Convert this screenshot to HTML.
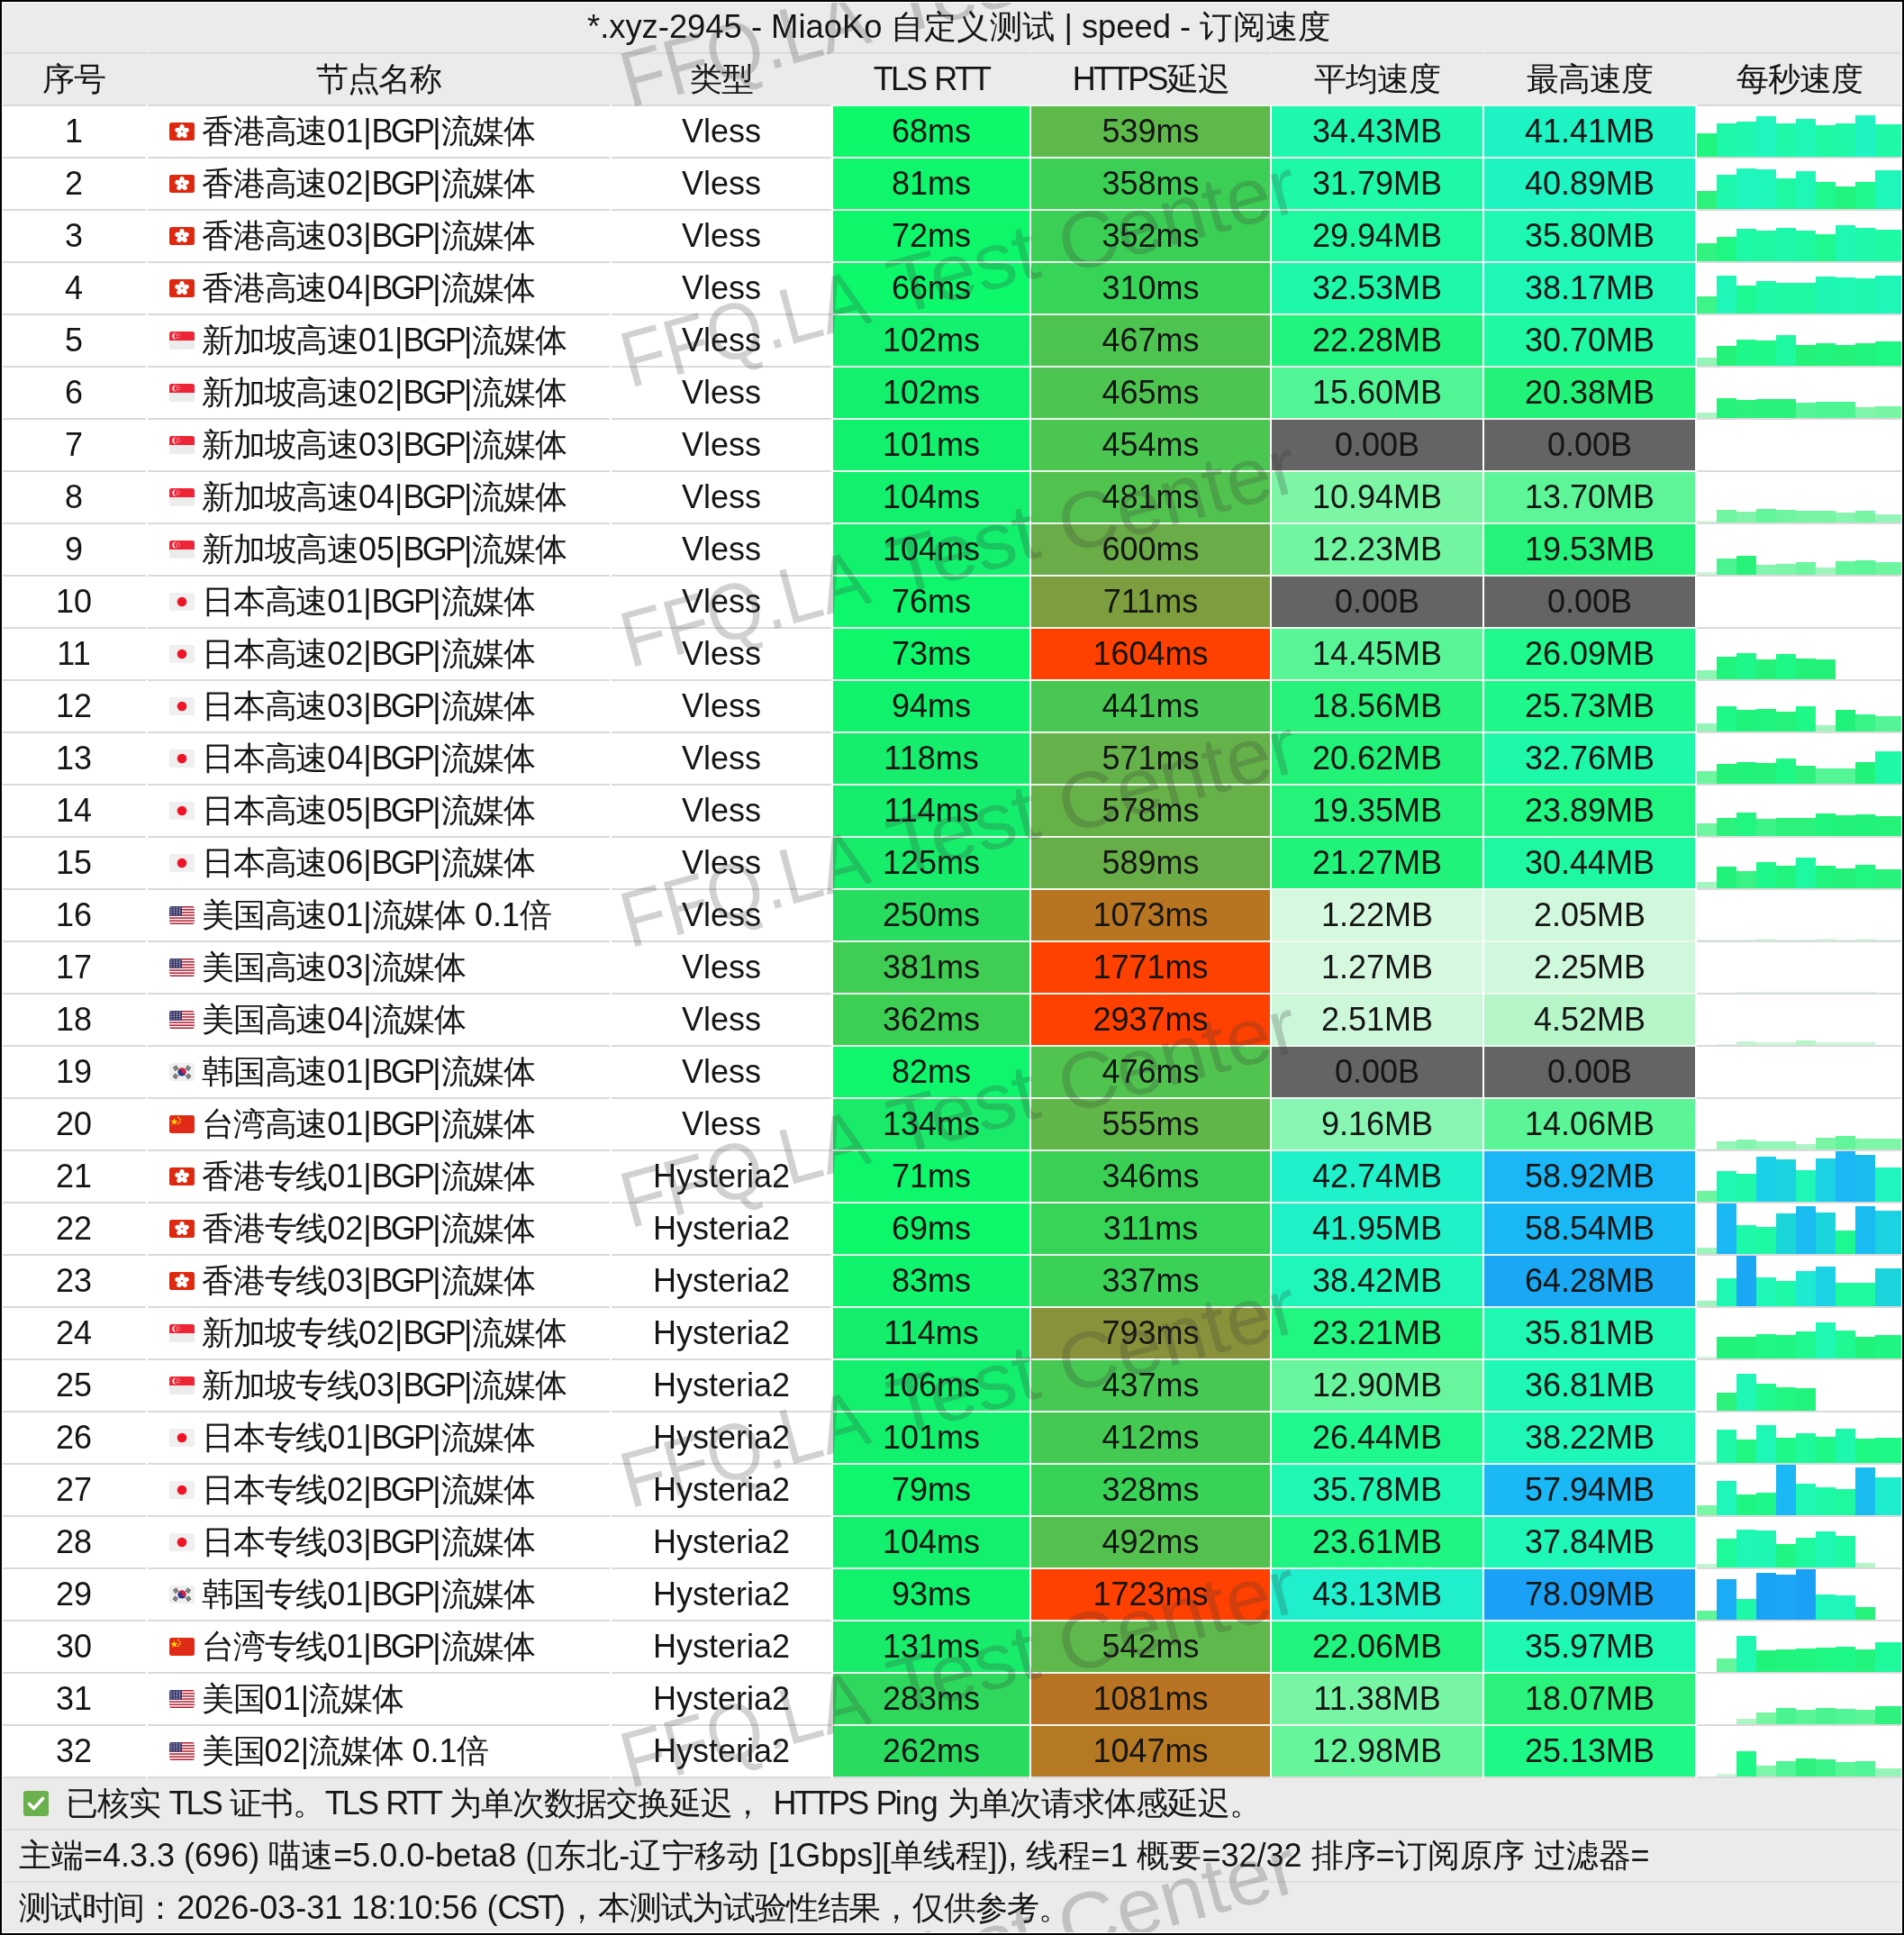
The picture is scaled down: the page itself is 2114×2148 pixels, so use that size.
<!DOCTYPE html><html><head><meta charset="utf-8"><style>
html,body{margin:0;padding:0;}
body{width:2114px;height:2148px;position:relative;overflow:hidden;background:#000;font-family:"Liberation Sans",sans-serif;color:#151515;-webkit-font-smoothing:antialiased;}
.a{position:absolute;}
.t{position:absolute;white-space:nowrap;will-change:transform;font-size:36px;line-height:56px;height:56px;text-align:center;}
.g{position:absolute;height:2px;background:#dadada;}
.w{position:absolute;height:2px;background:#eef7f0;}

</style></head><body>
<div class="a" style="left:2px;top:2px;width:2110px;height:2144px;background:#fff"></div>
<div class="a" style="left:2px;top:2px;width:2110px;height:114px;background:#ebebeb"></div>
<div class="a" style="left:2px;top:1974px;width:2110px;height:172px;background:#ebebeb"></div>
<div class="t" style="left:652px;top:2px;text-align:left;transform:scaleX(1.01);transform-origin:0 0">*.xyz-2945 - MiaoKo 自定义测试 | speed - 订阅速度</div>
<div class="g" style="left:2px;top:58px;width:160px;background:#dcdcdc"></div>
<div class="t" style="left:2px;top:60px;width:160px;"><span style="letter-spacing:-1.2px">序号</span></div>
<div class="g" style="left:164px;top:58px;width:513px;background:#dcdcdc"></div>
<div class="t" style="left:164px;top:60px;width:513px;"><span style="letter-spacing:-1.2px">节点名称</span></div>
<div class="g" style="left:679px;top:58px;width:244px;background:#dcdcdc"></div>
<div class="t" style="left:679px;top:60px;width:244px;"><span style="letter-spacing:-1.2px">类型</span></div>
<div class="g" style="left:925px;top:58px;width:218px;background:#dcdcdc"></div>
<div class="t" style="left:925px;top:60px;width:218px;"><b style="font-weight:normal;letter-spacing:-2.8px">TLS</b> <b style="font-weight:normal;letter-spacing:-2.8px">RTT</b></div>
<div class="g" style="left:1145px;top:58px;width:265px;background:#dcdcdc"></div>
<div class="t" style="left:1145px;top:60px;width:265px;"><b style="font-weight:normal;letter-spacing:-2.8px">HTTPS</b><span style="letter-spacing:-1.2px">延迟</span></div>
<div class="g" style="left:1412px;top:58px;width:234px;background:#dcdcdc"></div>
<div class="t" style="left:1412px;top:60px;width:234px;"><span style="letter-spacing:-1.2px">平均速度</span></div>
<div class="g" style="left:1648px;top:58px;width:234px;background:#dcdcdc"></div>
<div class="t" style="left:1648px;top:60px;width:234px;"><span style="letter-spacing:-1.2px">最高速度</span></div>
<div class="g" style="left:1884px;top:58px;width:228px;background:#dcdcdc"></div>
<div class="t" style="left:1884px;top:60px;width:228px;"><span style="letter-spacing:-1.2px">每秒速度</span></div>
<div class="g" style="left:2px;top:116px;width:160px"></div>
<div class="g" style="left:164px;top:116px;width:513px"></div>
<div class="g" style="left:679px;top:116px;width:244px"></div>
<div class="w" style="left:925px;top:116px;width:218px"></div>
<div class="a" style="left:925px;top:118px;width:218px;height:56px;background:#0df86b"></div>
<div class="w" style="left:1145px;top:116px;width:265px"></div>
<div class="a" style="left:1145px;top:118px;width:265px;height:56px;background:#5eb94b"></div>
<div class="w" style="left:1412px;top:116px;width:234px"></div>
<div class="a" style="left:1412px;top:118px;width:234px;height:56px;background:#1ef8ae"></div>
<div class="w" style="left:1648px;top:116px;width:234px"></div>
<div class="a" style="left:1648px;top:118px;width:234px;height:56px;background:#1ef3c4"></div>
<div class="g" style="left:1884px;top:116px;width:228px"></div>
<div class="t" style="left:2px;top:118px;width:160px">1</div>
<svg class="a" style="left:188px;top:136px" width="28" height="20" viewBox="0 0 28 20"><rect width="28" height="20" rx="2.5" fill="#de2910"/><ellipse cx="14.00" cy="5.60" rx="2.7" ry="3.7" fill="#fff" transform="rotate(0 14.00 5.60)"/><ellipse cx="18.18" cy="8.64" rx="2.7" ry="3.7" fill="#fff" transform="rotate(72 18.18 8.64)"/><ellipse cx="16.59" cy="13.56" rx="2.7" ry="3.7" fill="#fff" transform="rotate(144 16.59 13.56)"/><ellipse cx="11.41" cy="13.56" rx="2.7" ry="3.7" fill="#fff" transform="rotate(216 11.41 13.56)"/><ellipse cx="9.82" cy="8.64" rx="2.7" ry="3.7" fill="#fff" transform="rotate(288 9.82 8.64)"/><circle cx="14" cy="10" r="1" fill="#de2910"/></svg>
<div class="t" style="left:224px;top:118px;text-align:left"><span style="letter-spacing:-1.2px">香港高速</span>01|<b style="font-weight:normal;letter-spacing:-2.8px">BGP</b>|<span style="letter-spacing:-1.2px">流媒体</span></div>
<div class="t" style="left:679px;top:118px;width:244px">Vless</div>
<div class="t" style="left:925px;top:118px;width:218px">68ms</div>
<div class="t" style="left:1145px;top:118px;width:265px">539ms</div>
<div class="t" style="left:1412px;top:118px;width:234px">34.43MB</div>
<div class="t" style="left:1648px;top:118px;width:234px">41.41MB</div>
<div class="a" style="left:1884px;top:148.2px;width:22px;height:25.8px;background:#20f57f"></div>
<div class="a" style="left:1906px;top:137.1px;width:22px;height:36.9px;background:#1ef8a9"></div>
<div class="a" style="left:1928px;top:135.2px;width:22px;height:38.8px;background:#1ef8af"></div>
<div class="a" style="left:1950px;top:129.0px;width:22px;height:45.0px;background:#1ef6be"></div>
<div class="a" style="left:1972px;top:137.1px;width:22px;height:36.9px;background:#1ef8a9"></div>
<div class="a" style="left:1994px;top:132.1px;width:22px;height:41.9px;background:#1ef7b6"></div>
<div class="a" style="left:2016px;top:138.9px;width:22px;height:35.1px;background:#1ef9a4"></div>
<div class="a" style="left:2038px;top:137.1px;width:22px;height:36.9px;background:#1ef8a9"></div>
<div class="a" style="left:2060px;top:128.0px;width:22px;height:46.0px;background:#1ef4c2"></div>
<div class="a" style="left:2082px;top:138.1px;width:30px;height:35.9px;background:#1ef9a7"></div>
<div class="g" style="left:2px;top:174px;width:160px"></div>
<div class="g" style="left:164px;top:174px;width:513px"></div>
<div class="g" style="left:679px;top:174px;width:244px"></div>
<div class="w" style="left:925px;top:174px;width:218px"></div>
<div class="a" style="left:925px;top:176px;width:218px;height:56px;background:#0ff56c"></div>
<div class="w" style="left:1145px;top:174px;width:265px"></div>
<div class="a" style="left:1145px;top:176px;width:265px;height:56px;background:#3dcf55"></div>
<div class="w" style="left:1412px;top:174px;width:234px"></div>
<div class="a" style="left:1412px;top:176px;width:234px;height:56px;background:#1ef9a6"></div>
<div class="w" style="left:1648px;top:174px;width:234px"></div>
<div class="a" style="left:1648px;top:176px;width:234px;height:56px;background:#1ef4c1"></div>
<div class="g" style="left:1884px;top:174px;width:228px"></div>
<div class="t" style="left:2px;top:176px;width:160px">2</div>
<svg class="a" style="left:188px;top:194px" width="28" height="20" viewBox="0 0 28 20"><rect width="28" height="20" rx="2.5" fill="#de2910"/><ellipse cx="14.00" cy="5.60" rx="2.7" ry="3.7" fill="#fff" transform="rotate(0 14.00 5.60)"/><ellipse cx="18.18" cy="8.64" rx="2.7" ry="3.7" fill="#fff" transform="rotate(72 18.18 8.64)"/><ellipse cx="16.59" cy="13.56" rx="2.7" ry="3.7" fill="#fff" transform="rotate(144 16.59 13.56)"/><ellipse cx="11.41" cy="13.56" rx="2.7" ry="3.7" fill="#fff" transform="rotate(216 11.41 13.56)"/><ellipse cx="9.82" cy="8.64" rx="2.7" ry="3.7" fill="#fff" transform="rotate(288 9.82 8.64)"/><circle cx="14" cy="10" r="1" fill="#de2910"/></svg>
<div class="t" style="left:224px;top:176px;text-align:left"><span style="letter-spacing:-1.2px">香港高速</span>02|<b style="font-weight:normal;letter-spacing:-2.8px">BGP</b>|<span style="letter-spacing:-1.2px">流媒体</span></div>
<div class="t" style="left:679px;top:176px;width:244px">Vless</div>
<div class="t" style="left:925px;top:176px;width:218px">81ms</div>
<div class="t" style="left:1145px;top:176px;width:265px">358ms</div>
<div class="t" style="left:1412px;top:176px;width:234px">31.79MB</div>
<div class="t" style="left:1648px;top:176px;width:234px">40.89MB</div>
<div class="a" style="left:1884px;top:212.0px;width:22px;height:20.0px;background:#2cf27c"></div>
<div class="a" style="left:1906px;top:194.1px;width:22px;height:37.9px;background:#1ef8ac"></div>
<div class="a" style="left:1928px;top:187.3px;width:22px;height:44.7px;background:#1ef6bd"></div>
<div class="a" style="left:1950px;top:188.1px;width:22px;height:43.9px;background:#1ef6bb"></div>
<div class="a" style="left:1972px;top:198.0px;width:22px;height:34.0px;background:#1ef9a1"></div>
<div class="a" style="left:1994px;top:190.1px;width:22px;height:41.9px;background:#1ef7b6"></div>
<div class="a" style="left:2016px;top:202.1px;width:22px;height:29.9px;background:#1ef88f"></div>
<div class="a" style="left:2038px;top:207.1px;width:22px;height:24.9px;background:#20f47d"></div>
<div class="a" style="left:2060px;top:202.1px;width:22px;height:29.9px;background:#1ef88f"></div>
<div class="a" style="left:2082px;top:189.1px;width:30px;height:42.9px;background:#1ef7b9"></div>
<div class="g" style="left:2px;top:232px;width:160px"></div>
<div class="g" style="left:164px;top:232px;width:513px"></div>
<div class="g" style="left:679px;top:232px;width:244px"></div>
<div class="w" style="left:925px;top:232px;width:218px"></div>
<div class="a" style="left:925px;top:234px;width:218px;height:56px;background:#0ef76b"></div>
<div class="w" style="left:1145px;top:232px;width:265px"></div>
<div class="a" style="left:1145px;top:234px;width:265px;height:56px;background:#3ccf55"></div>
<div class="w" style="left:1412px;top:232px;width:234px"></div>
<div class="a" style="left:1412px;top:234px;width:234px;height:56px;background:#1ef9a0"></div>
<div class="w" style="left:1648px;top:232px;width:234px"></div>
<div class="a" style="left:1648px;top:234px;width:234px;height:56px;background:#1ef8b2"></div>
<div class="g" style="left:1884px;top:232px;width:228px"></div>
<div class="t" style="left:2px;top:234px;width:160px">3</div>
<svg class="a" style="left:188px;top:252px" width="28" height="20" viewBox="0 0 28 20"><rect width="28" height="20" rx="2.5" fill="#de2910"/><ellipse cx="14.00" cy="5.60" rx="2.7" ry="3.7" fill="#fff" transform="rotate(0 14.00 5.60)"/><ellipse cx="18.18" cy="8.64" rx="2.7" ry="3.7" fill="#fff" transform="rotate(72 18.18 8.64)"/><ellipse cx="16.59" cy="13.56" rx="2.7" ry="3.7" fill="#fff" transform="rotate(144 16.59 13.56)"/><ellipse cx="11.41" cy="13.56" rx="2.7" ry="3.7" fill="#fff" transform="rotate(216 11.41 13.56)"/><ellipse cx="9.82" cy="8.64" rx="2.7" ry="3.7" fill="#fff" transform="rotate(288 9.82 8.64)"/><circle cx="14" cy="10" r="1" fill="#de2910"/></svg>
<div class="t" style="left:224px;top:234px;text-align:left"><span style="letter-spacing:-1.2px">香港高速</span>03|<b style="font-weight:normal;letter-spacing:-2.8px">BGP</b>|<span style="letter-spacing:-1.2px">流媒体</span></div>
<div class="t" style="left:679px;top:234px;width:244px">Vless</div>
<div class="t" style="left:925px;top:234px;width:218px">72ms</div>
<div class="t" style="left:1145px;top:234px;width:265px">352ms</div>
<div class="t" style="left:1412px;top:234px;width:234px">29.94MB</div>
<div class="t" style="left:1648px;top:234px;width:234px">35.80MB</div>
<div class="a" style="left:1884px;top:270.3px;width:22px;height:19.7px;background:#31f37f"></div>
<div class="a" style="left:1906px;top:263.1px;width:22px;height:26.9px;background:#1ff783"></div>
<div class="a" style="left:1928px;top:254.2px;width:22px;height:35.8px;background:#1ef9a6"></div>
<div class="a" style="left:1950px;top:256.1px;width:22px;height:33.9px;background:#1ef9a1"></div>
<div class="a" style="left:1972px;top:252.9px;width:22px;height:37.1px;background:#1ef8aa"></div>
<div class="a" style="left:1994px;top:256.1px;width:22px;height:33.9px;background:#1ef9a1"></div>
<div class="a" style="left:2016px;top:260.1px;width:22px;height:29.9px;background:#1ef88f"></div>
<div class="a" style="left:2038px;top:250.1px;width:22px;height:39.9px;background:#1ef8b2"></div>
<div class="a" style="left:2060px;top:252.9px;width:22px;height:37.1px;background:#1ef8aa"></div>
<div class="a" style="left:2082px;top:255.0px;width:30px;height:35.0px;background:#1ef9a4"></div>
<div class="g" style="left:2px;top:290px;width:160px"></div>
<div class="g" style="left:164px;top:290px;width:513px"></div>
<div class="g" style="left:679px;top:290px;width:244px"></div>
<div class="w" style="left:925px;top:290px;width:218px"></div>
<div class="a" style="left:925px;top:292px;width:218px;height:56px;background:#0df86b"></div>
<div class="w" style="left:1145px;top:290px;width:265px"></div>
<div class="a" style="left:1145px;top:292px;width:265px;height:56px;background:#36d457"></div>
<div class="w" style="left:1412px;top:290px;width:234px"></div>
<div class="a" style="left:1412px;top:292px;width:234px;height:56px;background:#1ef8a8"></div>
<div class="w" style="left:1648px;top:290px;width:234px"></div>
<div class="a" style="left:1648px;top:292px;width:234px;height:56px;background:#1ef7b8"></div>
<div class="g" style="left:1884px;top:290px;width:228px"></div>
<div class="t" style="left:2px;top:292px;width:160px">4</div>
<svg class="a" style="left:188px;top:310px" width="28" height="20" viewBox="0 0 28 20"><rect width="28" height="20" rx="2.5" fill="#de2910"/><ellipse cx="14.00" cy="5.60" rx="2.7" ry="3.7" fill="#fff" transform="rotate(0 14.00 5.60)"/><ellipse cx="18.18" cy="8.64" rx="2.7" ry="3.7" fill="#fff" transform="rotate(72 18.18 8.64)"/><ellipse cx="16.59" cy="13.56" rx="2.7" ry="3.7" fill="#fff" transform="rotate(144 16.59 13.56)"/><ellipse cx="11.41" cy="13.56" rx="2.7" ry="3.7" fill="#fff" transform="rotate(216 11.41 13.56)"/><ellipse cx="9.82" cy="8.64" rx="2.7" ry="3.7" fill="#fff" transform="rotate(288 9.82 8.64)"/><circle cx="14" cy="10" r="1" fill="#de2910"/></svg>
<div class="t" style="left:224px;top:292px;text-align:left"><span style="letter-spacing:-1.2px">香港高速</span>04|<b style="font-weight:normal;letter-spacing:-2.8px">BGP</b>|<span style="letter-spacing:-1.2px">流媒体</span></div>
<div class="t" style="left:679px;top:292px;width:244px">Vless</div>
<div class="t" style="left:925px;top:292px;width:218px">66ms</div>
<div class="t" style="left:1145px;top:292px;width:265px">310ms</div>
<div class="t" style="left:1412px;top:292px;width:234px">32.53MB</div>
<div class="t" style="left:1648px;top:292px;width:234px">38.17MB</div>
<div class="a" style="left:1884px;top:329.2px;width:22px;height:18.8px;background:#3df488"></div>
<div class="a" style="left:1906px;top:305.9px;width:22px;height:42.1px;background:#1ef7b7"></div>
<div class="a" style="left:1928px;top:317.0px;width:22px;height:31.0px;background:#1ef994"></div>
<div class="a" style="left:1950px;top:312.1px;width:22px;height:35.9px;background:#1ef9a7"></div>
<div class="a" style="left:1972px;top:313.5px;width:22px;height:34.5px;background:#1ef9a3"></div>
<div class="a" style="left:1994px;top:314.0px;width:22px;height:34.0px;background:#1ef9a1"></div>
<div class="a" style="left:2016px;top:307.1px;width:22px;height:40.9px;background:#1ef7b4"></div>
<div class="a" style="left:2038px;top:308.1px;width:22px;height:39.9px;background:#1ef8b2"></div>
<div class="a" style="left:2060px;top:309.1px;width:22px;height:38.9px;background:#1ef8af"></div>
<div class="a" style="left:2082px;top:305.9px;width:30px;height:42.1px;background:#1ef7b7"></div>
<div class="g" style="left:2px;top:348px;width:160px"></div>
<div class="g" style="left:164px;top:348px;width:513px"></div>
<div class="g" style="left:679px;top:348px;width:244px"></div>
<div class="w" style="left:925px;top:348px;width:218px"></div>
<div class="a" style="left:925px;top:350px;width:218px;height:56px;background:#12f06d"></div>
<div class="w" style="left:1145px;top:348px;width:265px"></div>
<div class="a" style="left:1145px;top:350px;width:265px;height:56px;background:#4ec450"></div>
<div class="w" style="left:1412px;top:348px;width:234px"></div>
<div class="a" style="left:1412px;top:350px;width:234px;height:56px;background:#20f47d"></div>
<div class="w" style="left:1648px;top:348px;width:234px"></div>
<div class="a" style="left:1648px;top:350px;width:234px;height:56px;background:#1ef9a2"></div>
<div class="g" style="left:1884px;top:348px;width:228px"></div>
<div class="t" style="left:2px;top:350px;width:160px">5</div>
<svg class="a" style="left:188px;top:368px" width="28" height="20" viewBox="0 0 28 20"><clipPath id="c368"><rect width="28" height="20" rx="2.5"/></clipPath><g clip-path="url(#c368)"><rect width="28" height="20" fill="#ececec"/><rect width="28" height="10" fill="#ee2536"/><circle cx="7" cy="5" r="3.6" fill="#fff"/><circle cx="8.6" cy="5" r="3.4" fill="#ee2536"/><circle cx="9.8" cy="2.6" r="0.6" fill="#fff"/><circle cx="11.4" cy="4.2" r="0.6" fill="#fff"/><circle cx="10.8" cy="6.6" r="0.6" fill="#fff"/><circle cx="8.6" cy="6.6" r="0.6" fill="#fff"/><circle cx="8.2" cy="4.2" r="0.6" fill="#fff"/></g></svg>
<div class="t" style="left:224px;top:350px;text-align:left"><span style="letter-spacing:-1.2px">新加坡高速</span>01|<b style="font-weight:normal;letter-spacing:-2.8px">BGP</b>|<span style="letter-spacing:-1.2px">流媒体</span></div>
<div class="t" style="left:679px;top:350px;width:244px">Vless</div>
<div class="t" style="left:925px;top:350px;width:218px">102ms</div>
<div class="t" style="left:1145px;top:350px;width:265px">467ms</div>
<div class="t" style="left:1412px;top:350px;width:234px">22.28MB</div>
<div class="t" style="left:1648px;top:350px;width:234px">30.70MB</div>
<div class="a" style="left:1884px;top:397.2px;width:22px;height:8.8px;background:#95f5b8"></div>
<div class="a" style="left:1906px;top:383.9px;width:22px;height:22.1px;background:#24f278"></div>
<div class="a" style="left:1928px;top:377.1px;width:22px;height:28.9px;background:#1ef88a"></div>
<div class="a" style="left:1950px;top:378.1px;width:22px;height:27.9px;background:#1ef886"></div>
<div class="a" style="left:1972px;top:372.2px;width:22px;height:33.8px;background:#1ef9a1"></div>
<div class="a" style="left:1994px;top:383.2px;width:22px;height:22.8px;background:#22f277"></div>
<div class="a" style="left:2016px;top:381.1px;width:22px;height:24.9px;background:#20f47d"></div>
<div class="a" style="left:2038px;top:383.2px;width:22px;height:22.8px;background:#22f277"></div>
<div class="a" style="left:2060px;top:381.1px;width:22px;height:24.9px;background:#20f47d"></div>
<div class="a" style="left:2082px;top:379.1px;width:30px;height:26.9px;background:#1ff783"></div>
<div class="g" style="left:2px;top:406px;width:160px"></div>
<div class="g" style="left:164px;top:406px;width:513px"></div>
<div class="g" style="left:679px;top:406px;width:244px"></div>
<div class="w" style="left:925px;top:406px;width:218px"></div>
<div class="a" style="left:925px;top:408px;width:218px;height:56px;background:#12f06d"></div>
<div class="w" style="left:1145px;top:406px;width:265px"></div>
<div class="a" style="left:1145px;top:408px;width:265px;height:56px;background:#4ec450"></div>
<div class="w" style="left:1412px;top:406px;width:234px"></div>
<div class="a" style="left:1412px;top:408px;width:234px;height:56px;background:#50f595"></div>
<div class="w" style="left:1648px;top:406px;width:234px"></div>
<div class="a" style="left:1648px;top:408px;width:234px;height:56px;background:#22f277"></div>
<div class="g" style="left:1884px;top:406px;width:228px"></div>
<div class="t" style="left:2px;top:408px;width:160px">6</div>
<svg class="a" style="left:188px;top:426px" width="28" height="20" viewBox="0 0 28 20"><clipPath id="c426"><rect width="28" height="20" rx="2.5"/></clipPath><g clip-path="url(#c426)"><rect width="28" height="20" fill="#ececec"/><rect width="28" height="10" fill="#ee2536"/><circle cx="7" cy="5" r="3.6" fill="#fff"/><circle cx="8.6" cy="5" r="3.4" fill="#ee2536"/><circle cx="9.8" cy="2.6" r="0.6" fill="#fff"/><circle cx="11.4" cy="4.2" r="0.6" fill="#fff"/><circle cx="10.8" cy="6.6" r="0.6" fill="#fff"/><circle cx="8.6" cy="6.6" r="0.6" fill="#fff"/><circle cx="8.2" cy="4.2" r="0.6" fill="#fff"/></g></svg>
<div class="t" style="left:224px;top:408px;text-align:left"><span style="letter-spacing:-1.2px">新加坡高速</span>02|<b style="font-weight:normal;letter-spacing:-2.8px">BGP</b>|<span style="letter-spacing:-1.2px">流媒体</span></div>
<div class="t" style="left:679px;top:408px;width:244px">Vless</div>
<div class="t" style="left:925px;top:408px;width:218px">102ms</div>
<div class="t" style="left:1145px;top:408px;width:265px">465ms</div>
<div class="t" style="left:1412px;top:408px;width:234px">15.60MB</div>
<div class="t" style="left:1648px;top:408px;width:234px">20.38MB</div>
<div class="a" style="left:1884px;top:458.0px;width:22px;height:6.0px;background:#adf5c4"></div>
<div class="a" style="left:1906px;top:442.2px;width:22px;height:21.8px;background:#25f278"></div>
<div class="a" style="left:1928px;top:444.0px;width:22px;height:20.0px;background:#2cf27c"></div>
<div class="a" style="left:1950px;top:443.2px;width:22px;height:20.8px;background:#28f279"></div>
<div class="a" style="left:1972px;top:443.2px;width:22px;height:20.8px;background:#28f279"></div>
<div class="a" style="left:1994px;top:447.1px;width:22px;height:16.9px;background:#54f596"></div>
<div class="a" style="left:2016px;top:446.2px;width:22px;height:17.8px;background:#4bf592"></div>
<div class="a" style="left:2038px;top:446.2px;width:22px;height:17.8px;background:#4bf592"></div>
<div class="a" style="left:2060px;top:452.1px;width:22px;height:11.9px;background:#7ef5a8"></div>
<div class="a" style="left:2082px;top:451.1px;width:30px;height:12.9px;background:#77f5a3"></div>
<div class="g" style="left:2px;top:464px;width:160px"></div>
<div class="g" style="left:164px;top:464px;width:513px"></div>
<div class="g" style="left:679px;top:464px;width:244px"></div>
<div class="w" style="left:925px;top:464px;width:218px"></div>
<div class="a" style="left:925px;top:466px;width:218px;height:56px;background:#12f16d"></div>
<div class="w" style="left:1145px;top:464px;width:265px"></div>
<div class="a" style="left:1145px;top:466px;width:265px;height:56px;background:#4bc651"></div>
<div class="w" style="left:1412px;top:464px;width:234px"></div>
<div class="a" style="left:1412px;top:466px;width:234px;height:56px;background:#646464"></div>
<div class="w" style="left:1648px;top:464px;width:234px"></div>
<div class="a" style="left:1648px;top:466px;width:234px;height:56px;background:#646464"></div>
<div class="g" style="left:1884px;top:464px;width:228px"></div>
<div class="t" style="left:2px;top:466px;width:160px">7</div>
<svg class="a" style="left:188px;top:484px" width="28" height="20" viewBox="0 0 28 20"><clipPath id="c484"><rect width="28" height="20" rx="2.5"/></clipPath><g clip-path="url(#c484)"><rect width="28" height="20" fill="#ececec"/><rect width="28" height="10" fill="#ee2536"/><circle cx="7" cy="5" r="3.6" fill="#fff"/><circle cx="8.6" cy="5" r="3.4" fill="#ee2536"/><circle cx="9.8" cy="2.6" r="0.6" fill="#fff"/><circle cx="11.4" cy="4.2" r="0.6" fill="#fff"/><circle cx="10.8" cy="6.6" r="0.6" fill="#fff"/><circle cx="8.6" cy="6.6" r="0.6" fill="#fff"/><circle cx="8.2" cy="4.2" r="0.6" fill="#fff"/></g></svg>
<div class="t" style="left:224px;top:466px;text-align:left"><span style="letter-spacing:-1.2px">新加坡高速</span>03|<b style="font-weight:normal;letter-spacing:-2.8px">BGP</b>|<span style="letter-spacing:-1.2px">流媒体</span></div>
<div class="t" style="left:679px;top:466px;width:244px">Vless</div>
<div class="t" style="left:925px;top:466px;width:218px">101ms</div>
<div class="t" style="left:1145px;top:466px;width:265px">454ms</div>
<div class="t" style="left:1412px;top:466px;width:234px">0.00B</div>
<div class="t" style="left:1648px;top:466px;width:234px">0.00B</div>
<div class="g" style="left:2px;top:522px;width:160px"></div>
<div class="g" style="left:164px;top:522px;width:513px"></div>
<div class="g" style="left:679px;top:522px;width:244px"></div>
<div class="w" style="left:925px;top:522px;width:218px"></div>
<div class="a" style="left:925px;top:524px;width:218px;height:56px;background:#12f06d"></div>
<div class="w" style="left:1145px;top:522px;width:265px"></div>
<div class="a" style="left:1145px;top:524px;width:265px;height:56px;background:#52c24f"></div>
<div class="w" style="left:1412px;top:522px;width:234px"></div>
<div class="a" style="left:1412px;top:524px;width:234px;height:56px;background:#7cf5a5"></div>
<div class="w" style="left:1648px;top:522px;width:234px"></div>
<div class="a" style="left:1648px;top:524px;width:234px;height:56px;background:#5ef598"></div>
<div class="g" style="left:1884px;top:522px;width:228px"></div>
<div class="t" style="left:2px;top:524px;width:160px">8</div>
<svg class="a" style="left:188px;top:542px" width="28" height="20" viewBox="0 0 28 20"><clipPath id="c542"><rect width="28" height="20" rx="2.5"/></clipPath><g clip-path="url(#c542)"><rect width="28" height="20" fill="#ececec"/><rect width="28" height="10" fill="#ee2536"/><circle cx="7" cy="5" r="3.6" fill="#fff"/><circle cx="8.6" cy="5" r="3.4" fill="#ee2536"/><circle cx="9.8" cy="2.6" r="0.6" fill="#fff"/><circle cx="11.4" cy="4.2" r="0.6" fill="#fff"/><circle cx="10.8" cy="6.6" r="0.6" fill="#fff"/><circle cx="8.6" cy="6.6" r="0.6" fill="#fff"/><circle cx="8.2" cy="4.2" r="0.6" fill="#fff"/></g></svg>
<div class="t" style="left:224px;top:524px;text-align:left"><span style="letter-spacing:-1.2px">新加坡高速</span>04|<b style="font-weight:normal;letter-spacing:-2.8px">BGP</b>|<span style="letter-spacing:-1.2px">流媒体</span></div>
<div class="t" style="left:679px;top:524px;width:244px">Vless</div>
<div class="t" style="left:925px;top:524px;width:218px">104ms</div>
<div class="t" style="left:1145px;top:524px;width:265px">481ms</div>
<div class="t" style="left:1412px;top:524px;width:234px">10.94MB</div>
<div class="t" style="left:1648px;top:524px;width:234px">13.70MB</div>
<div class="a" style="left:1884px;top:578.3px;width:22px;height:1.7px;background:#d4f8de"></div>
<div class="a" style="left:1906px;top:566.1px;width:22px;height:13.9px;background:#6ff59f"></div>
<div class="a" style="left:1928px;top:568.3px;width:22px;height:11.7px;background:#80f5a9"></div>
<div class="a" style="left:1950px;top:565.1px;width:22px;height:14.9px;background:#63f59a"></div>
<div class="a" style="left:1972px;top:566.1px;width:22px;height:13.9px;background:#6ff59f"></div>
<div class="a" style="left:1994px;top:567.1px;width:22px;height:12.9px;background:#77f5a3"></div>
<div class="a" style="left:2016px;top:567.1px;width:22px;height:12.9px;background:#77f5a3"></div>
<div class="a" style="left:2038px;top:569.2px;width:22px;height:10.8px;background:#85f5af"></div>
<div class="a" style="left:2060px;top:567.1px;width:22px;height:12.9px;background:#77f5a3"></div>
<div class="a" style="left:2082px;top:571.1px;width:30px;height:8.9px;background:#94f5b8"></div>
<div class="g" style="left:2px;top:580px;width:160px"></div>
<div class="g" style="left:164px;top:580px;width:513px"></div>
<div class="g" style="left:679px;top:580px;width:244px"></div>
<div class="w" style="left:925px;top:580px;width:218px"></div>
<div class="a" style="left:925px;top:582px;width:218px;height:56px;background:#12f06d"></div>
<div class="w" style="left:1145px;top:580px;width:265px"></div>
<div class="a" style="left:1145px;top:582px;width:265px;height:56px;background:#6aac47"></div>
<div class="w" style="left:1412px;top:580px;width:234px"></div>
<div class="a" style="left:1412px;top:582px;width:234px;height:56px;background:#71f5a0"></div>
<div class="w" style="left:1648px;top:580px;width:234px"></div>
<div class="a" style="left:1648px;top:582px;width:234px;height:56px;background:#25f278"></div>
<div class="g" style="left:1884px;top:580px;width:228px"></div>
<div class="t" style="left:2px;top:582px;width:160px">9</div>
<svg class="a" style="left:188px;top:600px" width="28" height="20" viewBox="0 0 28 20"><clipPath id="c600"><rect width="28" height="20" rx="2.5"/></clipPath><g clip-path="url(#c600)"><rect width="28" height="20" fill="#ececec"/><rect width="28" height="10" fill="#ee2536"/><circle cx="7" cy="5" r="3.6" fill="#fff"/><circle cx="8.6" cy="5" r="3.4" fill="#ee2536"/><circle cx="9.8" cy="2.6" r="0.6" fill="#fff"/><circle cx="11.4" cy="4.2" r="0.6" fill="#fff"/><circle cx="10.8" cy="6.6" r="0.6" fill="#fff"/><circle cx="8.6" cy="6.6" r="0.6" fill="#fff"/><circle cx="8.2" cy="4.2" r="0.6" fill="#fff"/></g></svg>
<div class="t" style="left:224px;top:582px;text-align:left"><span style="letter-spacing:-1.2px">新加坡高速</span>05|<b style="font-weight:normal;letter-spacing:-2.8px">BGP</b>|<span style="letter-spacing:-1.2px">流媒体</span></div>
<div class="t" style="left:679px;top:582px;width:244px">Vless</div>
<div class="t" style="left:925px;top:582px;width:218px">104ms</div>
<div class="t" style="left:1145px;top:582px;width:265px">600ms</div>
<div class="t" style="left:1412px;top:582px;width:234px">12.23MB</div>
<div class="t" style="left:1648px;top:582px;width:234px">19.53MB</div>
<div class="a" style="left:1884px;top:635.1px;width:22px;height:2.9px;background:#ccf7d8"></div>
<div class="a" style="left:1906px;top:620.0px;width:22px;height:18.0px;background:#49f490"></div>
<div class="a" style="left:1928px;top:616.9px;width:22px;height:21.1px;background:#27f279"></div>
<div class="a" style="left:1950px;top:627.1px;width:22px;height:10.9px;background:#84f5ae"></div>
<div class="a" style="left:1972px;top:626.1px;width:22px;height:11.9px;background:#7ef5a8"></div>
<div class="a" style="left:1994px;top:624.0px;width:22px;height:14.0px;background:#6df59f"></div>
<div class="a" style="left:2016px;top:630.2px;width:22px;height:7.8px;background:#9df5bc"></div>
<div class="a" style="left:2038px;top:623.1px;width:22px;height:14.9px;background:#63f59a"></div>
<div class="a" style="left:2060px;top:622.3px;width:22px;height:15.7px;background:#5cf597"></div>
<div class="a" style="left:2082px;top:624.0px;width:30px;height:14.0px;background:#6df59f"></div>
<div class="g" style="left:2px;top:638px;width:160px"></div>
<div class="g" style="left:164px;top:638px;width:513px"></div>
<div class="g" style="left:679px;top:638px;width:244px"></div>
<div class="w" style="left:925px;top:638px;width:218px"></div>
<div class="a" style="left:925px;top:640px;width:218px;height:56px;background:#0ef66c"></div>
<div class="w" style="left:1145px;top:638px;width:265px"></div>
<div class="a" style="left:1145px;top:640px;width:265px;height:56px;background:#7c9e3e"></div>
<div class="w" style="left:1412px;top:638px;width:234px"></div>
<div class="a" style="left:1412px;top:640px;width:234px;height:56px;background:#646464"></div>
<div class="w" style="left:1648px;top:638px;width:234px"></div>
<div class="a" style="left:1648px;top:640px;width:234px;height:56px;background:#646464"></div>
<div class="g" style="left:1884px;top:638px;width:228px"></div>
<div class="t" style="left:2px;top:640px;width:160px">10</div>
<svg class="a" style="left:188px;top:658px" width="28" height="20" viewBox="0 0 28 20"><rect width="28" height="20" rx="2.5" fill="#efefef"/><circle cx="14" cy="10" r="5.3" fill="#ee1428"/></svg>
<div class="t" style="left:224px;top:640px;text-align:left"><span style="letter-spacing:-1.2px">日本高速</span>01|<b style="font-weight:normal;letter-spacing:-2.8px">BGP</b>|<span style="letter-spacing:-1.2px">流媒体</span></div>
<div class="t" style="left:679px;top:640px;width:244px">Vless</div>
<div class="t" style="left:925px;top:640px;width:218px">76ms</div>
<div class="t" style="left:1145px;top:640px;width:265px">711ms</div>
<div class="t" style="left:1412px;top:640px;width:234px">0.00B</div>
<div class="t" style="left:1648px;top:640px;width:234px">0.00B</div>
<div class="g" style="left:2px;top:696px;width:160px"></div>
<div class="g" style="left:164px;top:696px;width:513px"></div>
<div class="g" style="left:679px;top:696px;width:244px"></div>
<div class="w" style="left:925px;top:696px;width:218px"></div>
<div class="a" style="left:925px;top:698px;width:218px;height:56px;background:#0ef76b"></div>
<div class="w" style="left:1145px;top:696px;width:265px"></div>
<div class="a" style="left:1145px;top:698px;width:265px;height:56px;background:#fe4000"></div>
<div class="w" style="left:1412px;top:696px;width:234px"></div>
<div class="a" style="left:1412px;top:698px;width:234px;height:56px;background:#58f597"></div>
<div class="w" style="left:1648px;top:696px;width:234px"></div>
<div class="a" style="left:1648px;top:698px;width:234px;height:56px;background:#1ef88c"></div>
<div class="g" style="left:1884px;top:696px;width:228px"></div>
<div class="t" style="left:2px;top:698px;width:160px">11</div>
<svg class="a" style="left:188px;top:716px" width="28" height="20" viewBox="0 0 28 20"><rect width="28" height="20" rx="2.5" fill="#efefef"/><circle cx="14" cy="10" r="5.3" fill="#ee1428"/></svg>
<div class="t" style="left:224px;top:698px;text-align:left"><span style="letter-spacing:-1.2px">日本高速</span>02|<b style="font-weight:normal;letter-spacing:-2.8px">BGP</b>|<span style="letter-spacing:-1.2px">流媒体</span></div>
<div class="t" style="left:679px;top:698px;width:244px">Vless</div>
<div class="t" style="left:925px;top:698px;width:218px">73ms</div>
<div class="t" style="left:1145px;top:698px;width:265px">1604ms</div>
<div class="t" style="left:1412px;top:698px;width:234px">14.45MB</div>
<div class="t" style="left:1648px;top:698px;width:234px">26.09MB</div>
<div class="a" style="left:1884px;top:744.2px;width:22px;height:9.8px;background:#8cf5b4"></div>
<div class="a" style="left:1906px;top:729.0px;width:22px;height:25.0px;background:#20f47d"></div>
<div class="a" style="left:1928px;top:725.0px;width:22px;height:29.0px;background:#1ef88b"></div>
<div class="a" style="left:1950px;top:731.8px;width:22px;height:22.2px;background:#24f278"></div>
<div class="a" style="left:1972px;top:726.0px;width:22px;height:28.0px;background:#1ef886"></div>
<div class="a" style="left:1994px;top:731.0px;width:22px;height:23.0px;background:#22f277"></div>
<div class="a" style="left:2016px;top:731.8px;width:22px;height:22.2px;background:#24f278"></div>
<div class="g" style="left:2px;top:754px;width:160px"></div>
<div class="g" style="left:164px;top:754px;width:513px"></div>
<div class="g" style="left:679px;top:754px;width:244px"></div>
<div class="w" style="left:925px;top:754px;width:218px"></div>
<div class="a" style="left:925px;top:756px;width:218px;height:56px;background:#11f26c"></div>
<div class="w" style="left:1145px;top:754px;width:265px"></div>
<div class="a" style="left:1145px;top:756px;width:265px;height:56px;background:#48c852"></div>
<div class="w" style="left:1412px;top:754px;width:234px"></div>
<div class="a" style="left:1412px;top:756px;width:234px;height:56px;background:#28f279"></div>
<div class="w" style="left:1648px;top:754px;width:234px"></div>
<div class="a" style="left:1648px;top:756px;width:234px;height:56px;background:#1ef88a"></div>
<div class="g" style="left:1884px;top:754px;width:228px"></div>
<div class="t" style="left:2px;top:756px;width:160px">12</div>
<svg class="a" style="left:188px;top:774px" width="28" height="20" viewBox="0 0 28 20"><rect width="28" height="20" rx="2.5" fill="#efefef"/><circle cx="14" cy="10" r="5.3" fill="#ee1428"/></svg>
<div class="t" style="left:224px;top:756px;text-align:left"><span style="letter-spacing:-1.2px">日本高速</span>03|<b style="font-weight:normal;letter-spacing:-2.8px">BGP</b>|<span style="letter-spacing:-1.2px">流媒体</span></div>
<div class="t" style="left:679px;top:756px;width:244px">Vless</div>
<div class="t" style="left:925px;top:756px;width:218px">94ms</div>
<div class="t" style="left:1145px;top:756px;width:265px">441ms</div>
<div class="t" style="left:1412px;top:756px;width:234px">18.56MB</div>
<div class="t" style="left:1648px;top:756px;width:234px">25.73MB</div>
<div class="a" style="left:1884px;top:803.1px;width:22px;height:8.9px;background:#94f5b8"></div>
<div class="a" style="left:1906px;top:783.9px;width:22px;height:28.1px;background:#1ef886"></div>
<div class="a" style="left:1928px;top:788.0px;width:22px;height:24.0px;background:#21f37a"></div>
<div class="a" style="left:1950px;top:787.0px;width:22px;height:25.0px;background:#20f47d"></div>
<div class="a" style="left:1972px;top:790.1px;width:22px;height:21.9px;background:#25f278"></div>
<div class="a" style="left:1994px;top:783.9px;width:22px;height:28.1px;background:#1ef886"></div>
<div class="a" style="left:2016px;top:804.9px;width:22px;height:7.1px;background:#a3f5bf"></div>
<div class="a" style="left:2038px;top:788.0px;width:22px;height:24.0px;background:#21f37a"></div>
<div class="a" style="left:2060px;top:793.0px;width:22px;height:19.0px;background:#3af386"></div>
<div class="a" style="left:2082px;top:795.0px;width:30px;height:17.0px;background:#53f596"></div>
<div class="g" style="left:2px;top:812px;width:160px"></div>
<div class="g" style="left:164px;top:812px;width:513px"></div>
<div class="g" style="left:679px;top:812px;width:244px"></div>
<div class="w" style="left:925px;top:812px;width:218px"></div>
<div class="a" style="left:925px;top:814px;width:218px;height:56px;background:#16ed6c"></div>
<div class="w" style="left:1145px;top:812px;width:265px"></div>
<div class="a" style="left:1145px;top:814px;width:265px;height:56px;background:#64b249"></div>
<div class="w" style="left:1412px;top:812px;width:234px"></div>
<div class="a" style="left:1412px;top:814px;width:234px;height:56px;background:#22f277"></div>
<div class="w" style="left:1648px;top:812px;width:234px"></div>
<div class="a" style="left:1648px;top:814px;width:234px;height:56px;background:#1ef8a9"></div>
<div class="g" style="left:1884px;top:812px;width:228px"></div>
<div class="t" style="left:2px;top:814px;width:160px">13</div>
<svg class="a" style="left:188px;top:832px" width="28" height="20" viewBox="0 0 28 20"><rect width="28" height="20" rx="2.5" fill="#efefef"/><circle cx="14" cy="10" r="5.3" fill="#ee1428"/></svg>
<div class="t" style="left:224px;top:814px;text-align:left"><span style="letter-spacing:-1.2px">日本高速</span>04|<b style="font-weight:normal;letter-spacing:-2.8px">BGP</b>|<span style="letter-spacing:-1.2px">流媒体</span></div>
<div class="t" style="left:679px;top:814px;width:244px">Vless</div>
<div class="t" style="left:925px;top:814px;width:218px">118ms</div>
<div class="t" style="left:1145px;top:814px;width:265px">571ms</div>
<div class="t" style="left:1412px;top:814px;width:234px">20.62MB</div>
<div class="t" style="left:1648px;top:814px;width:234px">32.76MB</div>
<div class="a" style="left:1884px;top:856.0px;width:22px;height:14.0px;background:#6df59f"></div>
<div class="a" style="left:1906px;top:847.9px;width:22px;height:22.1px;background:#24f278"></div>
<div class="a" style="left:1928px;top:846.1px;width:22px;height:23.9px;background:#21f37a"></div>
<div class="a" style="left:1950px;top:847.1px;width:22px;height:22.9px;background:#22f277"></div>
<div class="a" style="left:1972px;top:842.1px;width:22px;height:27.9px;background:#1ef886"></div>
<div class="a" style="left:1994px;top:850.0px;width:22px;height:20.0px;background:#2cf27c"></div>
<div class="a" style="left:2016px;top:853.1px;width:22px;height:16.9px;background:#54f596"></div>
<div class="a" style="left:2038px;top:853.1px;width:22px;height:16.9px;background:#54f596"></div>
<div class="a" style="left:2060px;top:846.1px;width:22px;height:23.9px;background:#21f37a"></div>
<div class="a" style="left:2082px;top:834.1px;width:30px;height:35.9px;background:#1ef9a7"></div>
<div class="g" style="left:2px;top:870px;width:160px"></div>
<div class="g" style="left:164px;top:870px;width:513px"></div>
<div class="g" style="left:679px;top:870px;width:244px"></div>
<div class="w" style="left:925px;top:870px;width:218px"></div>
<div class="a" style="left:925px;top:872px;width:218px;height:56px;background:#15ee6c"></div>
<div class="w" style="left:1145px;top:870px;width:265px"></div>
<div class="a" style="left:1145px;top:872px;width:265px;height:56px;background:#66b148"></div>
<div class="w" style="left:1412px;top:870px;width:234px"></div>
<div class="a" style="left:1412px;top:872px;width:234px;height:56px;background:#25f278"></div>
<div class="w" style="left:1648px;top:870px;width:234px"></div>
<div class="a" style="left:1648px;top:872px;width:234px;height:56px;background:#1ff782"></div>
<div class="g" style="left:1884px;top:870px;width:228px"></div>
<div class="t" style="left:2px;top:872px;width:160px">14</div>
<svg class="a" style="left:188px;top:890px" width="28" height="20" viewBox="0 0 28 20"><rect width="28" height="20" rx="2.5" fill="#efefef"/><circle cx="14" cy="10" r="5.3" fill="#ee1428"/></svg>
<div class="t" style="left:224px;top:872px;text-align:left"><span style="letter-spacing:-1.2px">日本高速</span>05|<b style="font-weight:normal;letter-spacing:-2.8px">BGP</b>|<span style="letter-spacing:-1.2px">流媒体</span></div>
<div class="t" style="left:679px;top:872px;width:244px">Vless</div>
<div class="t" style="left:925px;top:872px;width:218px">114ms</div>
<div class="t" style="left:1145px;top:872px;width:265px">578ms</div>
<div class="t" style="left:1412px;top:872px;width:234px">19.35MB</div>
<div class="t" style="left:1648px;top:872px;width:234px">23.89MB</div>
<div class="a" style="left:1884px;top:914.2px;width:22px;height:13.8px;background:#70f5a0"></div>
<div class="a" style="left:1906px;top:908.0px;width:22px;height:20.0px;background:#2cf27c"></div>
<div class="a" style="left:1928px;top:902.1px;width:22px;height:25.9px;background:#20f680"></div>
<div class="a" style="left:1950px;top:909.0px;width:22px;height:19.0px;background:#3af386"></div>
<div class="a" style="left:1972px;top:908.0px;width:22px;height:20.0px;background:#2cf27c"></div>
<div class="a" style="left:1994px;top:908.0px;width:22px;height:20.0px;background:#2cf27c"></div>
<div class="a" style="left:2016px;top:903.1px;width:22px;height:24.9px;background:#20f47d"></div>
<div class="a" style="left:2038px;top:905.0px;width:22px;height:23.0px;background:#22f277"></div>
<div class="a" style="left:2060px;top:904.1px;width:22px;height:23.9px;background:#21f37a"></div>
<div class="a" style="left:2082px;top:906.2px;width:30px;height:21.8px;background:#25f278"></div>
<div class="g" style="left:2px;top:928px;width:160px"></div>
<div class="g" style="left:164px;top:928px;width:513px"></div>
<div class="g" style="left:679px;top:928px;width:244px"></div>
<div class="w" style="left:925px;top:928px;width:218px"></div>
<div class="a" style="left:925px;top:930px;width:218px;height:56px;background:#18ec6b"></div>
<div class="w" style="left:1145px;top:928px;width:265px"></div>
<div class="a" style="left:1145px;top:930px;width:265px;height:56px;background:#68ae48"></div>
<div class="w" style="left:1412px;top:928px;width:234px"></div>
<div class="a" style="left:1412px;top:930px;width:234px;height:56px;background:#21f37a"></div>
<div class="w" style="left:1648px;top:928px;width:234px"></div>
<div class="a" style="left:1648px;top:930px;width:234px;height:56px;background:#1ef9a1"></div>
<div class="g" style="left:1884px;top:928px;width:228px"></div>
<div class="t" style="left:2px;top:930px;width:160px">15</div>
<svg class="a" style="left:188px;top:948px" width="28" height="20" viewBox="0 0 28 20"><rect width="28" height="20" rx="2.5" fill="#efefef"/><circle cx="14" cy="10" r="5.3" fill="#ee1428"/></svg>
<div class="t" style="left:224px;top:930px;text-align:left"><span style="letter-spacing:-1.2px">日本高速</span>06|<b style="font-weight:normal;letter-spacing:-2.8px">BGP</b>|<span style="letter-spacing:-1.2px">流媒体</span></div>
<div class="t" style="left:679px;top:930px;width:244px">Vless</div>
<div class="t" style="left:925px;top:930px;width:218px">125ms</div>
<div class="t" style="left:1145px;top:930px;width:265px">589ms</div>
<div class="t" style="left:1412px;top:930px;width:234px">21.27MB</div>
<div class="t" style="left:1648px;top:930px;width:234px">30.44MB</div>
<div class="a" style="left:1884px;top:979.1px;width:22px;height:6.9px;background:#a5f5c0"></div>
<div class="a" style="left:1906px;top:962.0px;width:22px;height:24.0px;background:#21f37a"></div>
<div class="a" style="left:1928px;top:966.9px;width:22px;height:19.1px;background:#39f385"></div>
<div class="a" style="left:1950px;top:957.0px;width:22px;height:29.0px;background:#1ef88b"></div>
<div class="a" style="left:1972px;top:961.0px;width:22px;height:25.0px;background:#20f47d"></div>
<div class="a" style="left:1994px;top:952.1px;width:22px;height:33.9px;background:#1ef9a1"></div>
<div class="a" style="left:2016px;top:961.0px;width:22px;height:25.0px;background:#20f47d"></div>
<div class="a" style="left:2038px;top:963.9px;width:22px;height:22.1px;background:#24f278"></div>
<div class="a" style="left:2060px;top:960.0px;width:22px;height:26.0px;background:#20f680"></div>
<div class="a" style="left:2082px;top:965.1px;width:30px;height:20.9px;background:#28f279"></div>
<div class="g" style="left:2px;top:986px;width:160px"></div>
<div class="g" style="left:164px;top:986px;width:513px"></div>
<div class="g" style="left:679px;top:986px;width:244px"></div>
<div class="w" style="left:925px;top:986px;width:218px"></div>
<div class="a" style="left:925px;top:988px;width:218px;height:56px;background:#28dc60"></div>
<div class="w" style="left:1145px;top:986px;width:265px"></div>
<div class="a" style="left:1145px;top:988px;width:265px;height:56px;background:#b77522"></div>
<div class="w" style="left:1412px;top:986px;width:234px"></div>
<div class="a" style="left:1412px;top:988px;width:234px;height:56px;background:#d6f8df"></div>
<div class="w" style="left:1648px;top:986px;width:234px"></div>
<div class="a" style="left:1648px;top:988px;width:234px;height:56px;background:#d1f8dc"></div>
<div class="g" style="left:1884px;top:986px;width:228px"></div>
<div class="t" style="left:2px;top:988px;width:160px">16</div>
<svg class="a" style="left:188px;top:1006px" width="28" height="20" viewBox="0 0 28 20"><clipPath id="c1006"><rect width="28" height="20" rx="2.5"/></clipPath><g clip-path="url(#c1006)"><rect width="28" height="20" fill="#fff"/><rect y="0.00" width="28" height="1.54" fill="#b22234"/><rect y="3.08" width="28" height="1.54" fill="#b22234"/><rect y="6.15" width="28" height="1.54" fill="#b22234"/><rect y="9.23" width="28" height="1.54" fill="#b22234"/><rect y="12.31" width="28" height="1.54" fill="#b22234"/><rect y="15.38" width="28" height="1.54" fill="#b22234"/><rect y="18.46" width="28" height="1.54" fill="#b22234"/><rect width="14" height="10.8" fill="#3c3b6e"/><circle cx="2.0" cy="1.8" r="0.6" fill="#fff"/><circle cx="5.2" cy="1.8" r="0.6" fill="#fff"/><circle cx="8.4" cy="1.8" r="0.6" fill="#fff"/><circle cx="11.6" cy="1.8" r="0.6" fill="#fff"/><circle cx="2.0" cy="4.2" r="0.6" fill="#fff"/><circle cx="5.2" cy="4.2" r="0.6" fill="#fff"/><circle cx="8.4" cy="4.2" r="0.6" fill="#fff"/><circle cx="11.6" cy="4.2" r="0.6" fill="#fff"/><circle cx="2.0" cy="6.6" r="0.6" fill="#fff"/><circle cx="5.2" cy="6.6" r="0.6" fill="#fff"/><circle cx="8.4" cy="6.6" r="0.6" fill="#fff"/><circle cx="11.6" cy="6.6" r="0.6" fill="#fff"/><circle cx="2.0" cy="9.0" r="0.6" fill="#fff"/><circle cx="5.2" cy="9.0" r="0.6" fill="#fff"/><circle cx="8.4" cy="9.0" r="0.6" fill="#fff"/><circle cx="11.6" cy="9.0" r="0.6" fill="#fff"/></g></svg>
<div class="t" style="left:224px;top:988px;text-align:left"><span style="letter-spacing:-1.2px">美国高速</span>01|<span style="letter-spacing:-1.2px">流媒体</span> 0.1<span style="letter-spacing:-1.2px">倍</span></div>
<div class="t" style="left:679px;top:988px;width:244px">Vless</div>
<div class="t" style="left:925px;top:988px;width:218px">250ms</div>
<div class="t" style="left:1145px;top:988px;width:265px">1073ms</div>
<div class="t" style="left:1412px;top:988px;width:234px">1.22MB</div>
<div class="t" style="left:1648px;top:988px;width:234px">2.05MB</div>
<div class="a" style="left:1884px;top:1043.0px;width:22px;height:1.0px;background:#d9f8e1"></div>
<div class="a" style="left:1906px;top:1042.8px;width:22px;height:1.2px;background:#d7f8e0"></div>
<div class="a" style="left:1928px;top:1042.5px;width:22px;height:1.5px;background:#d5f8df"></div>
<div class="a" style="left:1950px;top:1042.0px;width:22px;height:2.0px;background:#d2f8dd"></div>
<div class="a" style="left:1972px;top:1042.8px;width:22px;height:1.2px;background:#d7f8e0"></div>
<div class="a" style="left:1994px;top:1042.5px;width:22px;height:1.5px;background:#d5f8df"></div>
<div class="a" style="left:2016px;top:1042.2px;width:22px;height:1.8px;background:#d4f8de"></div>
<div class="a" style="left:2038px;top:1042.8px;width:22px;height:1.2px;background:#d7f8e0"></div>
<div class="a" style="left:2060px;top:1042.2px;width:22px;height:1.8px;background:#d4f8de"></div>
<div class="a" style="left:2082px;top:1042.8px;width:30px;height:1.2px;background:#d7f8e0"></div>
<div class="g" style="left:2px;top:1044px;width:160px"></div>
<div class="g" style="left:164px;top:1044px;width:513px"></div>
<div class="g" style="left:679px;top:1044px;width:244px"></div>
<div class="w" style="left:925px;top:1044px;width:218px"></div>
<div class="a" style="left:925px;top:1046px;width:218px;height:56px;background:#40cd54"></div>
<div class="w" style="left:1145px;top:1044px;width:265px"></div>
<div class="a" style="left:1145px;top:1046px;width:265px;height:56px;background:#fe4000"></div>
<div class="w" style="left:1412px;top:1044px;width:234px"></div>
<div class="a" style="left:1412px;top:1046px;width:234px;height:56px;background:#d6f8df"></div>
<div class="w" style="left:1648px;top:1044px;width:234px"></div>
<div class="a" style="left:1648px;top:1046px;width:234px;height:56px;background:#d0f8dc"></div>
<div class="g" style="left:1884px;top:1044px;width:228px"></div>
<div class="t" style="left:2px;top:1046px;width:160px">17</div>
<svg class="a" style="left:188px;top:1064px" width="28" height="20" viewBox="0 0 28 20"><clipPath id="c1064"><rect width="28" height="20" rx="2.5"/></clipPath><g clip-path="url(#c1064)"><rect width="28" height="20" fill="#fff"/><rect y="0.00" width="28" height="1.54" fill="#b22234"/><rect y="3.08" width="28" height="1.54" fill="#b22234"/><rect y="6.15" width="28" height="1.54" fill="#b22234"/><rect y="9.23" width="28" height="1.54" fill="#b22234"/><rect y="12.31" width="28" height="1.54" fill="#b22234"/><rect y="15.38" width="28" height="1.54" fill="#b22234"/><rect y="18.46" width="28" height="1.54" fill="#b22234"/><rect width="14" height="10.8" fill="#3c3b6e"/><circle cx="2.0" cy="1.8" r="0.6" fill="#fff"/><circle cx="5.2" cy="1.8" r="0.6" fill="#fff"/><circle cx="8.4" cy="1.8" r="0.6" fill="#fff"/><circle cx="11.6" cy="1.8" r="0.6" fill="#fff"/><circle cx="2.0" cy="4.2" r="0.6" fill="#fff"/><circle cx="5.2" cy="4.2" r="0.6" fill="#fff"/><circle cx="8.4" cy="4.2" r="0.6" fill="#fff"/><circle cx="11.6" cy="4.2" r="0.6" fill="#fff"/><circle cx="2.0" cy="6.6" r="0.6" fill="#fff"/><circle cx="5.2" cy="6.6" r="0.6" fill="#fff"/><circle cx="8.4" cy="6.6" r="0.6" fill="#fff"/><circle cx="11.6" cy="6.6" r="0.6" fill="#fff"/><circle cx="2.0" cy="9.0" r="0.6" fill="#fff"/><circle cx="5.2" cy="9.0" r="0.6" fill="#fff"/><circle cx="8.4" cy="9.0" r="0.6" fill="#fff"/><circle cx="11.6" cy="9.0" r="0.6" fill="#fff"/></g></svg>
<div class="t" style="left:224px;top:1046px;text-align:left"><span style="letter-spacing:-1.2px">美国高速</span>03|<span style="letter-spacing:-1.2px">流媒体</span></div>
<div class="t" style="left:679px;top:1046px;width:244px">Vless</div>
<div class="t" style="left:925px;top:1046px;width:218px">381ms</div>
<div class="t" style="left:1145px;top:1046px;width:265px">1771ms</div>
<div class="t" style="left:1412px;top:1046px;width:234px">1.27MB</div>
<div class="t" style="left:1648px;top:1046px;width:234px">2.25MB</div>
<div class="a" style="left:1928px;top:1101.3px;width:22px;height:0.7px;background:#dbf8e2"></div>
<div class="a" style="left:1950px;top:1101.2px;width:22px;height:0.8px;background:#daf8e2"></div>
<div class="a" style="left:1972px;top:1100.5px;width:22px;height:1.5px;background:#d5f8df"></div>
<div class="a" style="left:1994px;top:1100.5px;width:22px;height:1.5px;background:#d5f8df"></div>
<div class="a" style="left:2016px;top:1100.5px;width:22px;height:1.5px;background:#d5f8df"></div>
<div class="a" style="left:2038px;top:1100.5px;width:22px;height:1.5px;background:#d5f8df"></div>
<div class="a" style="left:2060px;top:1100.5px;width:22px;height:1.5px;background:#d5f8df"></div>
<div class="g" style="left:2px;top:1102px;width:160px"></div>
<div class="g" style="left:164px;top:1102px;width:513px"></div>
<div class="g" style="left:679px;top:1102px;width:244px"></div>
<div class="w" style="left:925px;top:1102px;width:218px"></div>
<div class="a" style="left:925px;top:1104px;width:218px;height:56px;background:#3dcf54"></div>
<div class="w" style="left:1145px;top:1102px;width:265px"></div>
<div class="a" style="left:1145px;top:1104px;width:265px;height:56px;background:#fe4000"></div>
<div class="w" style="left:1412px;top:1102px;width:234px"></div>
<div class="a" style="left:1412px;top:1104px;width:234px;height:56px;background:#cdf7d9"></div>
<div class="w" style="left:1648px;top:1102px;width:234px"></div>
<div class="a" style="left:1648px;top:1104px;width:234px;height:56px;background:#b5f5c8"></div>
<div class="g" style="left:1884px;top:1102px;width:228px"></div>
<div class="t" style="left:2px;top:1104px;width:160px">18</div>
<svg class="a" style="left:188px;top:1122px" width="28" height="20" viewBox="0 0 28 20"><clipPath id="c1122"><rect width="28" height="20" rx="2.5"/></clipPath><g clip-path="url(#c1122)"><rect width="28" height="20" fill="#fff"/><rect y="0.00" width="28" height="1.54" fill="#b22234"/><rect y="3.08" width="28" height="1.54" fill="#b22234"/><rect y="6.15" width="28" height="1.54" fill="#b22234"/><rect y="9.23" width="28" height="1.54" fill="#b22234"/><rect y="12.31" width="28" height="1.54" fill="#b22234"/><rect y="15.38" width="28" height="1.54" fill="#b22234"/><rect y="18.46" width="28" height="1.54" fill="#b22234"/><rect width="14" height="10.8" fill="#3c3b6e"/><circle cx="2.0" cy="1.8" r="0.6" fill="#fff"/><circle cx="5.2" cy="1.8" r="0.6" fill="#fff"/><circle cx="8.4" cy="1.8" r="0.6" fill="#fff"/><circle cx="11.6" cy="1.8" r="0.6" fill="#fff"/><circle cx="2.0" cy="4.2" r="0.6" fill="#fff"/><circle cx="5.2" cy="4.2" r="0.6" fill="#fff"/><circle cx="8.4" cy="4.2" r="0.6" fill="#fff"/><circle cx="11.6" cy="4.2" r="0.6" fill="#fff"/><circle cx="2.0" cy="6.6" r="0.6" fill="#fff"/><circle cx="5.2" cy="6.6" r="0.6" fill="#fff"/><circle cx="8.4" cy="6.6" r="0.6" fill="#fff"/><circle cx="11.6" cy="6.6" r="0.6" fill="#fff"/><circle cx="2.0" cy="9.0" r="0.6" fill="#fff"/><circle cx="5.2" cy="9.0" r="0.6" fill="#fff"/><circle cx="8.4" cy="9.0" r="0.6" fill="#fff"/><circle cx="11.6" cy="9.0" r="0.6" fill="#fff"/></g></svg>
<div class="t" style="left:224px;top:1104px;text-align:left"><span style="letter-spacing:-1.2px">美国高速</span>04|<span style="letter-spacing:-1.2px">流媒体</span></div>
<div class="t" style="left:679px;top:1104px;width:244px">Vless</div>
<div class="t" style="left:925px;top:1104px;width:218px">362ms</div>
<div class="t" style="left:1145px;top:1104px;width:265px">2937ms</div>
<div class="t" style="left:1412px;top:1104px;width:234px">2.51MB</div>
<div class="t" style="left:1648px;top:1104px;width:234px">4.52MB</div>
<div class="a" style="left:1906px;top:1159.3px;width:22px;height:0.7px;background:#dbf8e2"></div>
<div class="a" style="left:1928px;top:1156.1px;width:22px;height:3.9px;background:#c1f6d1"></div>
<div class="a" style="left:1950px;top:1157.0px;width:22px;height:3.0px;background:#cbf7d7"></div>
<div class="a" style="left:1972px;top:1157.0px;width:22px;height:3.0px;background:#cbf7d7"></div>
<div class="a" style="left:1994px;top:1155.0px;width:22px;height:5.0px;background:#b5f5c8"></div>
<div class="a" style="left:2016px;top:1157.0px;width:22px;height:3.0px;background:#cbf7d7"></div>
<div class="a" style="left:2038px;top:1157.0px;width:22px;height:3.0px;background:#cbf7d7"></div>
<div class="a" style="left:2060px;top:1157.0px;width:22px;height:3.0px;background:#cbf7d7"></div>
<div class="g" style="left:2px;top:1160px;width:160px"></div>
<div class="g" style="left:164px;top:1160px;width:513px"></div>
<div class="g" style="left:679px;top:1160px;width:244px"></div>
<div class="w" style="left:925px;top:1160px;width:218px"></div>
<div class="a" style="left:925px;top:1162px;width:218px;height:56px;background:#0ff56c"></div>
<div class="w" style="left:1145px;top:1160px;width:265px"></div>
<div class="a" style="left:1145px;top:1162px;width:265px;height:56px;background:#51c34f"></div>
<div class="w" style="left:1412px;top:1160px;width:234px"></div>
<div class="a" style="left:1412px;top:1162px;width:234px;height:56px;background:#646464"></div>
<div class="w" style="left:1648px;top:1160px;width:234px"></div>
<div class="a" style="left:1648px;top:1162px;width:234px;height:56px;background:#646464"></div>
<div class="g" style="left:1884px;top:1160px;width:228px"></div>
<div class="t" style="left:2px;top:1162px;width:160px">19</div>
<svg class="a" style="left:188px;top:1180px" width="28" height="20" viewBox="0 0 28 20"><rect width="28" height="20" rx="2.5" fill="#efefef"/><circle cx="14" cy="10" r="4.6" fill="#1e3a8c"/><path d="M9.4 10 A4.6 4.6 0 0 1 18.6 10 A2.3 2.3 0 0 1 14 10 A2.3 2.3 0 0 0 9.4 10Z" fill="#d81e3c"/><g transform="rotate(-35 7.0 5.5)"><rect x="4.5" y="3.5" width="5" height="1" fill="#333"/><rect x="4.5" y="5.2" width="5" height="1" fill="#333"/><rect x="4.5" y="6.9" width="5" height="1" fill="#333"/></g><g transform="rotate(35 21.0 5.5)"><rect x="18.5" y="3.5" width="5" height="1" fill="#333"/><rect x="18.5" y="5.2" width="5" height="1" fill="#333"/><rect x="18.5" y="6.9" width="5" height="1" fill="#333"/></g><g transform="rotate(35 7.0 14.5)"><rect x="4.5" y="12.5" width="5" height="1" fill="#333"/><rect x="4.5" y="14.2" width="5" height="1" fill="#333"/><rect x="4.5" y="15.9" width="5" height="1" fill="#333"/></g><g transform="rotate(-35 21.0 14.5)"><rect x="18.5" y="12.5" width="5" height="1" fill="#333"/><rect x="18.5" y="14.2" width="5" height="1" fill="#333"/><rect x="18.5" y="15.9" width="5" height="1" fill="#333"/></g></svg>
<div class="t" style="left:224px;top:1162px;text-align:left"><span style="letter-spacing:-1.2px">韩国高速</span>01|<b style="font-weight:normal;letter-spacing:-2.8px">BGP</b>|<span style="letter-spacing:-1.2px">流媒体</span></div>
<div class="t" style="left:679px;top:1162px;width:244px">Vless</div>
<div class="t" style="left:925px;top:1162px;width:218px">82ms</div>
<div class="t" style="left:1145px;top:1162px;width:265px">476ms</div>
<div class="t" style="left:1412px;top:1162px;width:234px">0.00B</div>
<div class="t" style="left:1648px;top:1162px;width:234px">0.00B</div>
<div class="g" style="left:2px;top:1218px;width:160px"></div>
<div class="g" style="left:164px;top:1218px;width:513px"></div>
<div class="g" style="left:679px;top:1218px;width:244px"></div>
<div class="w" style="left:925px;top:1218px;width:218px"></div>
<div class="a" style="left:925px;top:1220px;width:218px;height:56px;background:#1aea6a"></div>
<div class="w" style="left:1145px;top:1218px;width:265px"></div>
<div class="a" style="left:1145px;top:1220px;width:265px;height:56px;background:#61b64a"></div>
<div class="w" style="left:1412px;top:1218px;width:234px"></div>
<div class="a" style="left:1412px;top:1220px;width:234px;height:56px;background:#88f5b2"></div>
<div class="w" style="left:1648px;top:1218px;width:234px"></div>
<div class="a" style="left:1648px;top:1220px;width:234px;height:56px;background:#5bf597"></div>
<div class="g" style="left:1884px;top:1218px;width:228px"></div>
<div class="t" style="left:2px;top:1220px;width:160px">20</div>
<svg class="a" style="left:188px;top:1238px" width="28" height="20" viewBox="0 0 28 20"><rect width="28" height="20" rx="2.5" fill="#e02a18"/><polygon points="5.5,3.2 6.5,6.1 9.5,6.1 7.1,7.9 8,10.8 5.5,9 3,10.8 3.9,7.9 1.5,6.1 4.5,6.1" fill="#ffde00"/><circle cx="10.0" cy="2.5" r="0.9" fill="#ffde00"/><circle cx="11.8" cy="4.6" r="0.9" fill="#ffde00"/><circle cx="11.8" cy="7.2" r="0.9" fill="#ffde00"/><circle cx="10.0" cy="9.2" r="0.9" fill="#ffde00"/></svg>
<div class="t" style="left:224px;top:1220px;text-align:left"><span style="letter-spacing:-1.2px">台湾高速</span>01|<b style="font-weight:normal;letter-spacing:-2.8px">BGP</b>|<span style="letter-spacing:-1.2px">流媒体</span></div>
<div class="t" style="left:679px;top:1220px;width:244px">Vless</div>
<div class="t" style="left:925px;top:1220px;width:218px">134ms</div>
<div class="t" style="left:1145px;top:1220px;width:265px">555ms</div>
<div class="t" style="left:1412px;top:1220px;width:234px">9.16MB</div>
<div class="t" style="left:1648px;top:1220px;width:234px">14.06MB</div>
<div class="a" style="left:1884px;top:1275.1px;width:22px;height:0.9px;background:#d9f8e1"></div>
<div class="a" style="left:1906px;top:1267.1px;width:22px;height:8.9px;background:#94f5b8"></div>
<div class="a" style="left:1928px;top:1265.0px;width:22px;height:11.0px;background:#84f5ae"></div>
<div class="a" style="left:1950px;top:1267.1px;width:22px;height:8.9px;background:#94f5b8"></div>
<div class="a" style="left:1972px;top:1267.1px;width:22px;height:8.9px;background:#94f5b8"></div>
<div class="a" style="left:1994px;top:1270.2px;width:22px;height:5.8px;background:#aff5c5"></div>
<div class="a" style="left:2016px;top:1263.1px;width:22px;height:12.9px;background:#77f5a3"></div>
<div class="a" style="left:2038px;top:1261.1px;width:22px;height:14.9px;background:#63f59a"></div>
<div class="a" style="left:2060px;top:1264.0px;width:22px;height:12.0px;background:#7ef5a7"></div>
<div class="a" style="left:2082px;top:1264.0px;width:30px;height:12.0px;background:#7ef5a7"></div>
<div class="g" style="left:2px;top:1276px;width:160px"></div>
<div class="g" style="left:164px;top:1276px;width:513px"></div>
<div class="g" style="left:679px;top:1276px;width:244px"></div>
<div class="w" style="left:925px;top:1276px;width:218px"></div>
<div class="a" style="left:925px;top:1278px;width:218px;height:56px;background:#0ef76b"></div>
<div class="w" style="left:1145px;top:1276px;width:265px"></div>
<div class="a" style="left:1145px;top:1278px;width:265px;height:56px;background:#3bd055"></div>
<div class="w" style="left:1412px;top:1276px;width:234px"></div>
<div class="a" style="left:1412px;top:1278px;width:234px;height:56px;background:#1ff1ca"></div>
<div class="w" style="left:1648px;top:1276px;width:234px"></div>
<div class="a" style="left:1648px;top:1278px;width:234px;height:56px;background:#1ab6f5"></div>
<div class="g" style="left:1884px;top:1276px;width:228px"></div>
<div class="t" style="left:2px;top:1278px;width:160px">21</div>
<svg class="a" style="left:188px;top:1296px" width="28" height="20" viewBox="0 0 28 20"><rect width="28" height="20" rx="2.5" fill="#de2910"/><ellipse cx="14.00" cy="5.60" rx="2.7" ry="3.7" fill="#fff" transform="rotate(0 14.00 5.60)"/><ellipse cx="18.18" cy="8.64" rx="2.7" ry="3.7" fill="#fff" transform="rotate(72 18.18 8.64)"/><ellipse cx="16.59" cy="13.56" rx="2.7" ry="3.7" fill="#fff" transform="rotate(144 16.59 13.56)"/><ellipse cx="11.41" cy="13.56" rx="2.7" ry="3.7" fill="#fff" transform="rotate(216 11.41 13.56)"/><ellipse cx="9.82" cy="8.64" rx="2.7" ry="3.7" fill="#fff" transform="rotate(288 9.82 8.64)"/><circle cx="14" cy="10" r="1" fill="#de2910"/></svg>
<div class="t" style="left:224px;top:1278px;text-align:left"><span style="letter-spacing:-1.2px">香港专线</span>01|<b style="font-weight:normal;letter-spacing:-2.8px">BGP</b>|<span style="letter-spacing:-1.2px">流媒体</span></div>
<div class="t" style="left:679px;top:1278px;width:244px">Hysteria2</div>
<div class="t" style="left:925px;top:1278px;width:218px">71ms</div>
<div class="t" style="left:1145px;top:1278px;width:265px">346ms</div>
<div class="t" style="left:1412px;top:1278px;width:234px">42.74MB</div>
<div class="t" style="left:1648px;top:1278px;width:234px">58.92MB</div>
<div class="a" style="left:1884px;top:1322.0px;width:22px;height:12.0px;background:#6cf59e"></div>
<div class="a" style="left:1906px;top:1300.0px;width:22px;height:34.0px;background:#1ef8b2"></div>
<div class="a" style="left:1928px;top:1302.9px;width:22px;height:31.1px;background:#1ef8a9"></div>
<div class="a" style="left:1950px;top:1284.0px;width:22px;height:50.0px;background:#1ad0e8"></div>
<div class="a" style="left:1972px;top:1287.0px;width:22px;height:47.0px;background:#1ad3e0"></div>
<div class="a" style="left:1994px;top:1299.0px;width:22px;height:35.0px;background:#1ef7b5"></div>
<div class="a" style="left:2016px;top:1286.0px;width:22px;height:48.0px;background:#1ad2e3"></div>
<div class="a" style="left:2038px;top:1278.0px;width:22px;height:56.0px;background:#1ab6f5"></div>
<div class="a" style="left:2060px;top:1282.0px;width:22px;height:52.0px;background:#1abcf0"></div>
<div class="a" style="left:2082px;top:1296.0px;width:30px;height:38.0px;background:#1ef6bd"></div>
<div class="g" style="left:2px;top:1334px;width:160px"></div>
<div class="g" style="left:164px;top:1334px;width:513px"></div>
<div class="g" style="left:679px;top:1334px;width:244px"></div>
<div class="w" style="left:925px;top:1334px;width:218px"></div>
<div class="a" style="left:925px;top:1336px;width:218px;height:56px;background:#0df76b"></div>
<div class="w" style="left:1145px;top:1334px;width:265px"></div>
<div class="a" style="left:1145px;top:1336px;width:265px;height:56px;background:#36d457"></div>
<div class="w" style="left:1412px;top:1334px;width:234px"></div>
<div class="a" style="left:1412px;top:1336px;width:234px;height:56px;background:#1ff2c6"></div>
<div class="w" style="left:1648px;top:1334px;width:234px"></div>
<div class="a" style="left:1648px;top:1336px;width:234px;height:56px;background:#1ab7f5"></div>
<div class="g" style="left:1884px;top:1334px;width:228px"></div>
<div class="t" style="left:2px;top:1336px;width:160px">22</div>
<svg class="a" style="left:188px;top:1354px" width="28" height="20" viewBox="0 0 28 20"><rect width="28" height="20" rx="2.5" fill="#de2910"/><ellipse cx="14.00" cy="5.60" rx="2.7" ry="3.7" fill="#fff" transform="rotate(0 14.00 5.60)"/><ellipse cx="18.18" cy="8.64" rx="2.7" ry="3.7" fill="#fff" transform="rotate(72 18.18 8.64)"/><ellipse cx="16.59" cy="13.56" rx="2.7" ry="3.7" fill="#fff" transform="rotate(144 16.59 13.56)"/><ellipse cx="11.41" cy="13.56" rx="2.7" ry="3.7" fill="#fff" transform="rotate(216 11.41 13.56)"/><ellipse cx="9.82" cy="8.64" rx="2.7" ry="3.7" fill="#fff" transform="rotate(288 9.82 8.64)"/><circle cx="14" cy="10" r="1" fill="#de2910"/></svg>
<div class="t" style="left:224px;top:1336px;text-align:left"><span style="letter-spacing:-1.2px">香港专线</span>02|<b style="font-weight:normal;letter-spacing:-2.8px">BGP</b>|<span style="letter-spacing:-1.2px">流媒体</span></div>
<div class="t" style="left:679px;top:1336px;width:244px">Hysteria2</div>
<div class="t" style="left:925px;top:1336px;width:218px">69ms</div>
<div class="t" style="left:1145px;top:1336px;width:265px">311ms</div>
<div class="t" style="left:1412px;top:1336px;width:234px">41.95MB</div>
<div class="t" style="left:1648px;top:1336px;width:234px">58.54MB</div>
<div class="a" style="left:1884px;top:1385.2px;width:22px;height:6.8px;background:#9cf5bc"></div>
<div class="a" style="left:1906px;top:1336.0px;width:22px;height:56.0px;background:#1ab7f5"></div>
<div class="a" style="left:1928px;top:1360.0px;width:22px;height:32.0px;background:#1ef8ab"></div>
<div class="a" style="left:1950px;top:1362.0px;width:22px;height:30.0px;background:#1ef9a4"></div>
<div class="a" style="left:1972px;top:1347.0px;width:22px;height:45.0px;background:#1ad6d8"></div>
<div class="a" style="left:1994px;top:1339.0px;width:22px;height:53.0px;background:#1abbf1"></div>
<div class="a" style="left:2016px;top:1346.0px;width:22px;height:46.0px;background:#1ad5dc"></div>
<div class="a" style="left:2038px;top:1366.0px;width:22px;height:26.0px;background:#1ef891"></div>
<div class="a" style="left:2060px;top:1339.0px;width:22px;height:53.0px;background:#1abbf1"></div>
<div class="a" style="left:2082px;top:1344.0px;width:30px;height:48.0px;background:#1ad2e2"></div>
<div class="g" style="left:2px;top:1392px;width:160px"></div>
<div class="g" style="left:164px;top:1392px;width:513px"></div>
<div class="g" style="left:679px;top:1392px;width:244px"></div>
<div class="w" style="left:925px;top:1392px;width:218px"></div>
<div class="a" style="left:925px;top:1394px;width:218px;height:56px;background:#0ff46c"></div>
<div class="w" style="left:1145px;top:1392px;width:265px"></div>
<div class="a" style="left:1145px;top:1394px;width:265px;height:56px;background:#3ad156"></div>
<div class="w" style="left:1412px;top:1392px;width:234px"></div>
<div class="a" style="left:1412px;top:1394px;width:234px;height:56px;background:#1ef7b9"></div>
<div class="w" style="left:1648px;top:1392px;width:234px"></div>
<div class="a" style="left:1648px;top:1394px;width:234px;height:56px;background:#1aa8f5"></div>
<div class="g" style="left:1884px;top:1392px;width:228px"></div>
<div class="t" style="left:2px;top:1394px;width:160px">23</div>
<svg class="a" style="left:188px;top:1412px" width="28" height="20" viewBox="0 0 28 20"><rect width="28" height="20" rx="2.5" fill="#de2910"/><ellipse cx="14.00" cy="5.60" rx="2.7" ry="3.7" fill="#fff" transform="rotate(0 14.00 5.60)"/><ellipse cx="18.18" cy="8.64" rx="2.7" ry="3.7" fill="#fff" transform="rotate(72 18.18 8.64)"/><ellipse cx="16.59" cy="13.56" rx="2.7" ry="3.7" fill="#fff" transform="rotate(144 16.59 13.56)"/><ellipse cx="11.41" cy="13.56" rx="2.7" ry="3.7" fill="#fff" transform="rotate(216 11.41 13.56)"/><ellipse cx="9.82" cy="8.64" rx="2.7" ry="3.7" fill="#fff" transform="rotate(288 9.82 8.64)"/><circle cx="14" cy="10" r="1" fill="#de2910"/></svg>
<div class="t" style="left:224px;top:1394px;text-align:left"><span style="letter-spacing:-1.2px">香港专线</span>03|<b style="font-weight:normal;letter-spacing:-2.8px">BGP</b>|<span style="letter-spacing:-1.2px">流媒体</span></div>
<div class="t" style="left:679px;top:1394px;width:244px">Hysteria2</div>
<div class="t" style="left:925px;top:1394px;width:218px">83ms</div>
<div class="t" style="left:1145px;top:1394px;width:265px">337ms</div>
<div class="t" style="left:1412px;top:1394px;width:234px">38.42MB</div>
<div class="t" style="left:1648px;top:1394px;width:234px">64.28MB</div>
<div class="a" style="left:1884px;top:1444.1px;width:22px;height:5.9px;background:#9ff5bd"></div>
<div class="a" style="left:1906px;top:1419.0px;width:22px;height:31.0px;background:#1ef8b2"></div>
<div class="a" style="left:1928px;top:1394.0px;width:22px;height:56.0px;background:#1aa8f5"></div>
<div class="a" style="left:1950px;top:1418.0px;width:22px;height:32.0px;background:#1ef7b5"></div>
<div class="a" style="left:1972px;top:1422.0px;width:22px;height:28.0px;background:#1ef9a7"></div>
<div class="a" style="left:1994px;top:1411.2px;width:22px;height:38.8px;background:#1eead2"></div>
<div class="a" style="left:2016px;top:1406.0px;width:22px;height:44.0px;background:#1ad2e3"></div>
<div class="a" style="left:2038px;top:1424.2px;width:22px;height:25.8px;background:#1ef99e"></div>
<div class="a" style="left:2060px;top:1424.2px;width:22px;height:25.8px;background:#1ef99e"></div>
<div class="a" style="left:2082px;top:1408.1px;width:30px;height:41.9px;background:#1ad5dc"></div>
<div class="g" style="left:2px;top:1450px;width:160px"></div>
<div class="g" style="left:164px;top:1450px;width:513px"></div>
<div class="g" style="left:679px;top:1450px;width:244px"></div>
<div class="w" style="left:925px;top:1450px;width:218px"></div>
<div class="a" style="left:925px;top:1452px;width:218px;height:56px;background:#15ee6c"></div>
<div class="w" style="left:1145px;top:1450px;width:265px"></div>
<div class="a" style="left:1145px;top:1452px;width:265px;height:56px;background:#89913a"></div>
<div class="w" style="left:1412px;top:1450px;width:234px"></div>
<div class="a" style="left:1412px;top:1452px;width:234px;height:56px;background:#20f680"></div>
<div class="w" style="left:1648px;top:1450px;width:234px"></div>
<div class="a" style="left:1648px;top:1452px;width:234px;height:56px;background:#1ef8b2"></div>
<div class="g" style="left:1884px;top:1450px;width:228px"></div>
<div class="t" style="left:2px;top:1452px;width:160px">24</div>
<svg class="a" style="left:188px;top:1470px" width="28" height="20" viewBox="0 0 28 20"><clipPath id="c1470"><rect width="28" height="20" rx="2.5"/></clipPath><g clip-path="url(#c1470)"><rect width="28" height="20" fill="#ececec"/><rect width="28" height="10" fill="#ee2536"/><circle cx="7" cy="5" r="3.6" fill="#fff"/><circle cx="8.6" cy="5" r="3.4" fill="#ee2536"/><circle cx="9.8" cy="2.6" r="0.6" fill="#fff"/><circle cx="11.4" cy="4.2" r="0.6" fill="#fff"/><circle cx="10.8" cy="6.6" r="0.6" fill="#fff"/><circle cx="8.6" cy="6.6" r="0.6" fill="#fff"/><circle cx="8.2" cy="4.2" r="0.6" fill="#fff"/></g></svg>
<div class="t" style="left:224px;top:1452px;text-align:left"><span style="letter-spacing:-1.2px">新加坡专线</span>02|<b style="font-weight:normal;letter-spacing:-2.8px">BGP</b>|<span style="letter-spacing:-1.2px">流媒体</span></div>
<div class="t" style="left:679px;top:1452px;width:244px">Hysteria2</div>
<div class="t" style="left:925px;top:1452px;width:218px">114ms</div>
<div class="t" style="left:1145px;top:1452px;width:265px">793ms</div>
<div class="t" style="left:1412px;top:1452px;width:234px">23.21MB</div>
<div class="t" style="left:1648px;top:1452px;width:234px">35.81MB</div>
<div class="a" style="left:1884px;top:1506.0px;width:22px;height:2.0px;background:#d2f8dd"></div>
<div class="a" style="left:1906px;top:1484.0px;width:22px;height:24.0px;background:#21f37a"></div>
<div class="a" style="left:1928px;top:1484.0px;width:22px;height:24.0px;background:#21f37a"></div>
<div class="a" style="left:1950px;top:1481.0px;width:22px;height:27.0px;background:#1ff783"></div>
<div class="a" style="left:1972px;top:1481.8px;width:22px;height:26.2px;background:#1ff681"></div>
<div class="a" style="left:1994px;top:1478.1px;width:22px;height:29.9px;background:#1ef88f"></div>
<div class="a" style="left:2016px;top:1467.8px;width:22px;height:40.2px;background:#1ef8b2"></div>
<div class="a" style="left:2038px;top:1476.9px;width:22px;height:31.1px;background:#1ef994"></div>
<div class="a" style="left:2060px;top:1484.0px;width:22px;height:24.0px;background:#21f37a"></div>
<div class="a" style="left:2082px;top:1481.8px;width:30px;height:26.2px;background:#1ff681"></div>
<div class="g" style="left:2px;top:1508px;width:160px"></div>
<div class="g" style="left:164px;top:1508px;width:513px"></div>
<div class="g" style="left:679px;top:1508px;width:244px"></div>
<div class="w" style="left:925px;top:1508px;width:218px"></div>
<div class="a" style="left:925px;top:1510px;width:218px;height:56px;background:#13f06d"></div>
<div class="w" style="left:1145px;top:1508px;width:265px"></div>
<div class="a" style="left:1145px;top:1510px;width:265px;height:56px;background:#47c852"></div>
<div class="w" style="left:1412px;top:1508px;width:234px"></div>
<div class="a" style="left:1412px;top:1510px;width:234px;height:56px;background:#68f59d"></div>
<div class="w" style="left:1648px;top:1508px;width:234px"></div>
<div class="a" style="left:1648px;top:1510px;width:234px;height:56px;background:#1ef7b5"></div>
<div class="g" style="left:1884px;top:1508px;width:228px"></div>
<div class="t" style="left:2px;top:1510px;width:160px">25</div>
<svg class="a" style="left:188px;top:1528px" width="28" height="20" viewBox="0 0 28 20"><clipPath id="c1528"><rect width="28" height="20" rx="2.5"/></clipPath><g clip-path="url(#c1528)"><rect width="28" height="20" fill="#ececec"/><rect width="28" height="10" fill="#ee2536"/><circle cx="7" cy="5" r="3.6" fill="#fff"/><circle cx="8.6" cy="5" r="3.4" fill="#ee2536"/><circle cx="9.8" cy="2.6" r="0.6" fill="#fff"/><circle cx="11.4" cy="4.2" r="0.6" fill="#fff"/><circle cx="10.8" cy="6.6" r="0.6" fill="#fff"/><circle cx="8.6" cy="6.6" r="0.6" fill="#fff"/><circle cx="8.2" cy="4.2" r="0.6" fill="#fff"/></g></svg>
<div class="t" style="left:224px;top:1510px;text-align:left"><span style="letter-spacing:-1.2px">新加坡专线</span>03|<b style="font-weight:normal;letter-spacing:-2.8px">BGP</b>|<span style="letter-spacing:-1.2px">流媒体</span></div>
<div class="t" style="left:679px;top:1510px;width:244px">Hysteria2</div>
<div class="t" style="left:925px;top:1510px;width:218px">106ms</div>
<div class="t" style="left:1145px;top:1510px;width:265px">437ms</div>
<div class="t" style="left:1412px;top:1510px;width:234px">12.90MB</div>
<div class="t" style="left:1648px;top:1510px;width:234px">36.81MB</div>
<div class="a" style="left:1906px;top:1545.9px;width:22px;height:20.1px;background:#2bf27b"></div>
<div class="a" style="left:1928px;top:1524.8px;width:22px;height:41.2px;background:#1ef7b5"></div>
<div class="a" style="left:1950px;top:1536.0px;width:22px;height:30.0px;background:#1ef88f"></div>
<div class="a" style="left:1972px;top:1540.1px;width:22px;height:25.9px;background:#20f680"></div>
<div class="a" style="left:1994px;top:1541.0px;width:22px;height:25.0px;background:#20f47d"></div>
<div class="g" style="left:2px;top:1566px;width:160px"></div>
<div class="g" style="left:164px;top:1566px;width:513px"></div>
<div class="g" style="left:679px;top:1566px;width:244px"></div>
<div class="w" style="left:925px;top:1566px;width:218px"></div>
<div class="a" style="left:925px;top:1568px;width:218px;height:56px;background:#12f16d"></div>
<div class="w" style="left:1145px;top:1566px;width:265px"></div>
<div class="a" style="left:1145px;top:1568px;width:265px;height:56px;background:#44ca53"></div>
<div class="w" style="left:1412px;top:1566px;width:234px"></div>
<div class="a" style="left:1412px;top:1568px;width:234px;height:56px;background:#1ef88d"></div>
<div class="w" style="left:1648px;top:1566px;width:234px"></div>
<div class="a" style="left:1648px;top:1568px;width:234px;height:56px;background:#1ef7b8"></div>
<div class="g" style="left:1884px;top:1566px;width:228px"></div>
<div class="t" style="left:2px;top:1568px;width:160px">26</div>
<svg class="a" style="left:188px;top:1586px" width="28" height="20" viewBox="0 0 28 20"><rect width="28" height="20" rx="2.5" fill="#efefef"/><circle cx="14" cy="10" r="5.3" fill="#ee1428"/></svg>
<div class="t" style="left:224px;top:1568px;text-align:left"><span style="letter-spacing:-1.2px">日本专线</span>01|<b style="font-weight:normal;letter-spacing:-2.8px">BGP</b>|<span style="letter-spacing:-1.2px">流媒体</span></div>
<div class="t" style="left:679px;top:1568px;width:244px">Hysteria2</div>
<div class="t" style="left:925px;top:1568px;width:218px">101ms</div>
<div class="t" style="left:1145px;top:1568px;width:265px">412ms</div>
<div class="t" style="left:1412px;top:1568px;width:234px">26.44MB</div>
<div class="t" style="left:1648px;top:1568px;width:234px">38.22MB</div>
<div class="a" style="left:1884px;top:1622.1px;width:22px;height:1.9px;background:#d3f8de"></div>
<div class="a" style="left:1906px;top:1587.1px;width:22px;height:36.9px;background:#1ef8a9"></div>
<div class="a" style="left:1928px;top:1598.0px;width:22px;height:26.0px;background:#20f680"></div>
<div class="a" style="left:1950px;top:1581.9px;width:22px;height:42.1px;background:#1ef7b7"></div>
<div class="a" style="left:1972px;top:1596.1px;width:22px;height:27.9px;background:#1ef886"></div>
<div class="a" style="left:1994px;top:1591.2px;width:22px;height:32.8px;background:#1ef99c"></div>
<div class="a" style="left:2016px;top:1595.3px;width:22px;height:28.7px;background:#1ef889"></div>
<div class="a" style="left:2038px;top:1586.0px;width:22px;height:38.0px;background:#1ef8ad"></div>
<div class="a" style="left:2060px;top:1597.1px;width:22px;height:26.9px;background:#1ff783"></div>
<div class="a" style="left:2082px;top:1596.1px;width:30px;height:27.9px;background:#1ef886"></div>
<div class="g" style="left:2px;top:1624px;width:160px"></div>
<div class="g" style="left:164px;top:1624px;width:513px"></div>
<div class="g" style="left:679px;top:1624px;width:244px"></div>
<div class="w" style="left:925px;top:1624px;width:218px"></div>
<div class="a" style="left:925px;top:1626px;width:218px;height:56px;background:#0ff56c"></div>
<div class="w" style="left:1145px;top:1624px;width:265px"></div>
<div class="a" style="left:1145px;top:1626px;width:265px;height:56px;background:#38d256"></div>
<div class="w" style="left:1412px;top:1624px;width:234px"></div>
<div class="a" style="left:1412px;top:1626px;width:234px;height:56px;background:#1ef8b2"></div>
<div class="w" style="left:1648px;top:1624px;width:234px"></div>
<div class="a" style="left:1648px;top:1626px;width:234px;height:56px;background:#1ab8f5"></div>
<div class="g" style="left:1884px;top:1624px;width:228px"></div>
<div class="t" style="left:2px;top:1626px;width:160px">27</div>
<svg class="a" style="left:188px;top:1644px" width="28" height="20" viewBox="0 0 28 20"><rect width="28" height="20" rx="2.5" fill="#efefef"/><circle cx="14" cy="10" r="5.3" fill="#ee1428"/></svg>
<div class="t" style="left:224px;top:1626px;text-align:left"><span style="letter-spacing:-1.2px">日本专线</span>02|<b style="font-weight:normal;letter-spacing:-2.8px">BGP</b>|<span style="letter-spacing:-1.2px">流媒体</span></div>
<div class="t" style="left:679px;top:1626px;width:244px">Hysteria2</div>
<div class="t" style="left:925px;top:1626px;width:218px">79ms</div>
<div class="t" style="left:1145px;top:1626px;width:265px">328ms</div>
<div class="t" style="left:1412px;top:1626px;width:234px">35.78MB</div>
<div class="t" style="left:1648px;top:1626px;width:234px">57.94MB</div>
<div class="a" style="left:1884px;top:1671.1px;width:22px;height:10.9px;background:#79f5a4"></div>
<div class="a" style="left:1906px;top:1644.1px;width:22px;height:37.9px;background:#1ef6bb"></div>
<div class="a" style="left:1928px;top:1659.1px;width:22px;height:22.9px;background:#1ff682"></div>
<div class="a" style="left:1950px;top:1657.1px;width:22px;height:24.9px;background:#1ef88a"></div>
<div class="a" style="left:1972px;top:1626.0px;width:22px;height:56.0px;background:#1ab8f5"></div>
<div class="a" style="left:1994px;top:1647.0px;width:22px;height:35.0px;background:#1ef8b3"></div>
<div class="a" style="left:2016px;top:1651.0px;width:22px;height:31.0px;background:#1ef9a7"></div>
<div class="a" style="left:2038px;top:1653.1px;width:22px;height:28.9px;background:#1ef99f"></div>
<div class="a" style="left:2060px;top:1629.0px;width:22px;height:53.0px;background:#1abcf0"></div>
<div class="a" style="left:2082px;top:1639.9px;width:30px;height:42.1px;background:#1feece"></div>
<div class="g" style="left:2px;top:1682px;width:160px"></div>
<div class="g" style="left:164px;top:1682px;width:513px"></div>
<div class="g" style="left:679px;top:1682px;width:244px"></div>
<div class="w" style="left:925px;top:1682px;width:218px"></div>
<div class="a" style="left:925px;top:1684px;width:218px;height:56px;background:#12f06d"></div>
<div class="w" style="left:1145px;top:1682px;width:265px"></div>
<div class="a" style="left:1145px;top:1684px;width:265px;height:56px;background:#54c04e"></div>
<div class="w" style="left:1412px;top:1682px;width:234px"></div>
<div class="a" style="left:1412px;top:1684px;width:234px;height:56px;background:#1ff681"></div>
<div class="w" style="left:1648px;top:1682px;width:234px"></div>
<div class="a" style="left:1648px;top:1684px;width:234px;height:56px;background:#1ef7b7"></div>
<div class="g" style="left:1884px;top:1682px;width:228px"></div>
<div class="t" style="left:2px;top:1684px;width:160px">28</div>
<svg class="a" style="left:188px;top:1702px" width="28" height="20" viewBox="0 0 28 20"><rect width="28" height="20" rx="2.5" fill="#efefef"/><circle cx="14" cy="10" r="5.3" fill="#ee1428"/></svg>
<div class="t" style="left:224px;top:1684px;text-align:left"><span style="letter-spacing:-1.2px">日本专线</span>03|<b style="font-weight:normal;letter-spacing:-2.8px">BGP</b>|<span style="letter-spacing:-1.2px">流媒体</span></div>
<div class="t" style="left:679px;top:1684px;width:244px">Hysteria2</div>
<div class="t" style="left:925px;top:1684px;width:218px">104ms</div>
<div class="t" style="left:1145px;top:1684px;width:265px">492ms</div>
<div class="t" style="left:1412px;top:1684px;width:234px">23.61MB</div>
<div class="t" style="left:1648px;top:1684px;width:234px">37.84MB</div>
<div class="a" style="left:1884px;top:1736.2px;width:22px;height:3.8px;background:#c2f6d1"></div>
<div class="a" style="left:1906px;top:1707.9px;width:22px;height:32.1px;background:#1ef999"></div>
<div class="a" style="left:1928px;top:1698.1px;width:22px;height:41.9px;background:#1ef7b6"></div>
<div class="a" style="left:1950px;top:1699.0px;width:22px;height:41.0px;background:#1ef7b4"></div>
<div class="a" style="left:1972px;top:1713.8px;width:22px;height:26.2px;background:#1ff681"></div>
<div class="a" style="left:1994px;top:1707.0px;width:22px;height:33.0px;background:#1ef99d"></div>
<div class="a" style="left:2016px;top:1699.8px;width:22px;height:40.2px;background:#1ef8b2"></div>
<div class="a" style="left:2038px;top:1704.9px;width:22px;height:35.1px;background:#1ef9a4"></div>
<div class="a" style="left:2060px;top:1734.9px;width:22px;height:5.1px;background:#b4f5c8"></div>
<div class="g" style="left:2px;top:1740px;width:160px"></div>
<div class="g" style="left:164px;top:1740px;width:513px"></div>
<div class="g" style="left:679px;top:1740px;width:244px"></div>
<div class="w" style="left:925px;top:1740px;width:218px"></div>
<div class="a" style="left:925px;top:1742px;width:218px;height:56px;background:#11f26c"></div>
<div class="w" style="left:1145px;top:1740px;width:265px"></div>
<div class="a" style="left:1145px;top:1742px;width:265px;height:56px;background:#fe4000"></div>
<div class="w" style="left:1412px;top:1740px;width:234px"></div>
<div class="a" style="left:1412px;top:1742px;width:234px;height:56px;background:#1fefcc"></div>
<div class="w" style="left:1648px;top:1740px;width:234px"></div>
<div class="a" style="left:1648px;top:1742px;width:234px;height:56px;background:#1aa1f5"></div>
<div class="g" style="left:1884px;top:1740px;width:228px"></div>
<div class="t" style="left:2px;top:1742px;width:160px">29</div>
<svg class="a" style="left:188px;top:1760px" width="28" height="20" viewBox="0 0 28 20"><rect width="28" height="20" rx="2.5" fill="#efefef"/><circle cx="14" cy="10" r="4.6" fill="#1e3a8c"/><path d="M9.4 10 A4.6 4.6 0 0 1 18.6 10 A2.3 2.3 0 0 1 14 10 A2.3 2.3 0 0 0 9.4 10Z" fill="#d81e3c"/><g transform="rotate(-35 7.0 5.5)"><rect x="4.5" y="3.5" width="5" height="1" fill="#333"/><rect x="4.5" y="5.2" width="5" height="1" fill="#333"/><rect x="4.5" y="6.9" width="5" height="1" fill="#333"/></g><g transform="rotate(35 21.0 5.5)"><rect x="18.5" y="3.5" width="5" height="1" fill="#333"/><rect x="18.5" y="5.2" width="5" height="1" fill="#333"/><rect x="18.5" y="6.9" width="5" height="1" fill="#333"/></g><g transform="rotate(35 7.0 14.5)"><rect x="4.5" y="12.5" width="5" height="1" fill="#333"/><rect x="4.5" y="14.2" width="5" height="1" fill="#333"/><rect x="4.5" y="15.9" width="5" height="1" fill="#333"/></g><g transform="rotate(-35 21.0 14.5)"><rect x="18.5" y="12.5" width="5" height="1" fill="#333"/><rect x="18.5" y="14.2" width="5" height="1" fill="#333"/><rect x="18.5" y="15.9" width="5" height="1" fill="#333"/></g></svg>
<div class="t" style="left:224px;top:1742px;text-align:left"><span style="letter-spacing:-1.2px">韩国专线</span>01|<b style="font-weight:normal;letter-spacing:-2.8px">BGP</b>|<span style="letter-spacing:-1.2px">流媒体</span></div>
<div class="t" style="left:679px;top:1742px;width:244px">Hysteria2</div>
<div class="t" style="left:925px;top:1742px;width:218px">93ms</div>
<div class="t" style="left:1145px;top:1742px;width:265px">1723ms</div>
<div class="t" style="left:1412px;top:1742px;width:234px">43.13MB</div>
<div class="t" style="left:1648px;top:1742px;width:234px">78.09MB</div>
<div class="a" style="left:1884px;top:1788.1px;width:22px;height:9.9px;background:#5df598"></div>
<div class="a" style="left:1906px;top:1753.1px;width:22px;height:44.9px;background:#1aacf5"></div>
<div class="a" style="left:1928px;top:1774.8px;width:22px;height:23.2px;background:#1ef9a8"></div>
<div class="a" style="left:1950px;top:1746.1px;width:22px;height:51.9px;background:#1aa4f5"></div>
<div class="a" style="left:1972px;top:1748.0px;width:22px;height:50.0px;background:#1aa5f5"></div>
<div class="a" style="left:1994px;top:1742.0px;width:22px;height:56.0px;background:#1aa1f5"></div>
<div class="a" style="left:2016px;top:1770.2px;width:22px;height:27.8px;background:#1ef6ba"></div>
<div class="a" style="left:2038px;top:1770.9px;width:22px;height:27.1px;background:#1ef7b7"></div>
<div class="a" style="left:2060px;top:1784.1px;width:22px;height:13.9px;background:#25f278"></div>
<div class="g" style="left:2px;top:1798px;width:160px"></div>
<div class="g" style="left:164px;top:1798px;width:513px"></div>
<div class="g" style="left:679px;top:1798px;width:244px"></div>
<div class="w" style="left:925px;top:1798px;width:218px"></div>
<div class="a" style="left:925px;top:1800px;width:218px;height:56px;background:#19eb6a"></div>
<div class="w" style="left:1145px;top:1798px;width:265px"></div>
<div class="a" style="left:1145px;top:1800px;width:265px;height:56px;background:#5fb84b"></div>
<div class="w" style="left:1412px;top:1798px;width:234px"></div>
<div class="a" style="left:1412px;top:1800px;width:234px;height:56px;background:#21f47c"></div>
<div class="w" style="left:1648px;top:1798px;width:234px"></div>
<div class="a" style="left:1648px;top:1800px;width:234px;height:56px;background:#1ef8b3"></div>
<div class="g" style="left:1884px;top:1798px;width:228px"></div>
<div class="t" style="left:2px;top:1800px;width:160px">30</div>
<svg class="a" style="left:188px;top:1818px" width="28" height="20" viewBox="0 0 28 20"><rect width="28" height="20" rx="2.5" fill="#e02a18"/><polygon points="5.5,3.2 6.5,6.1 9.5,6.1 7.1,7.9 8,10.8 5.5,9 3,10.8 3.9,7.9 1.5,6.1 4.5,6.1" fill="#ffde00"/><circle cx="10.0" cy="2.5" r="0.9" fill="#ffde00"/><circle cx="11.8" cy="4.6" r="0.9" fill="#ffde00"/><circle cx="11.8" cy="7.2" r="0.9" fill="#ffde00"/><circle cx="10.0" cy="9.2" r="0.9" fill="#ffde00"/></svg>
<div class="t" style="left:224px;top:1800px;text-align:left"><span style="letter-spacing:-1.2px">台湾专线</span>01|<b style="font-weight:normal;letter-spacing:-2.8px">BGP</b>|<span style="letter-spacing:-1.2px">流媒体</span></div>
<div class="t" style="left:679px;top:1800px;width:244px">Hysteria2</div>
<div class="t" style="left:925px;top:1800px;width:218px">131ms</div>
<div class="t" style="left:1145px;top:1800px;width:265px">542ms</div>
<div class="t" style="left:1412px;top:1800px;width:234px">22.06MB</div>
<div class="t" style="left:1648px;top:1800px;width:234px">35.97MB</div>
<div class="a" style="left:1906px;top:1841.1px;width:22px;height:14.9px;background:#63f59a"></div>
<div class="a" style="left:1928px;top:1816.1px;width:22px;height:39.9px;background:#1ef8b2"></div>
<div class="a" style="left:1950px;top:1832.2px;width:22px;height:23.8px;background:#21f37a"></div>
<div class="a" style="left:1972px;top:1831.2px;width:22px;height:24.8px;background:#21f47c"></div>
<div class="a" style="left:1994px;top:1830.2px;width:22px;height:25.8px;background:#20f57f"></div>
<div class="a" style="left:2016px;top:1829.1px;width:22px;height:26.9px;background:#1ff783"></div>
<div class="a" style="left:2038px;top:1828.1px;width:22px;height:27.9px;background:#1ef886"></div>
<div class="a" style="left:2060px;top:1831.2px;width:22px;height:24.8px;background:#21f47c"></div>
<div class="a" style="left:2082px;top:1823.2px;width:30px;height:32.8px;background:#1ef99c"></div>
<div class="g" style="left:2px;top:1856px;width:160px"></div>
<div class="g" style="left:164px;top:1856px;width:513px"></div>
<div class="g" style="left:679px;top:1856px;width:244px"></div>
<div class="w" style="left:925px;top:1856px;width:218px"></div>
<div class="a" style="left:925px;top:1858px;width:218px;height:56px;background:#2fd85c"></div>
<div class="w" style="left:1145px;top:1856px;width:265px"></div>
<div class="a" style="left:1145px;top:1858px;width:265px;height:56px;background:#b87422"></div>
<div class="w" style="left:1412px;top:1856px;width:234px"></div>
<div class="a" style="left:1412px;top:1858px;width:234px;height:56px;background:#78f5a4"></div>
<div class="w" style="left:1648px;top:1856px;width:234px"></div>
<div class="a" style="left:1648px;top:1858px;width:234px;height:56px;background:#2af27a"></div>
<div class="g" style="left:1884px;top:1856px;width:228px"></div>
<div class="t" style="left:2px;top:1858px;width:160px">31</div>
<svg class="a" style="left:188px;top:1876px" width="28" height="20" viewBox="0 0 28 20"><clipPath id="c1876"><rect width="28" height="20" rx="2.5"/></clipPath><g clip-path="url(#c1876)"><rect width="28" height="20" fill="#fff"/><rect y="0.00" width="28" height="1.54" fill="#b22234"/><rect y="3.08" width="28" height="1.54" fill="#b22234"/><rect y="6.15" width="28" height="1.54" fill="#b22234"/><rect y="9.23" width="28" height="1.54" fill="#b22234"/><rect y="12.31" width="28" height="1.54" fill="#b22234"/><rect y="15.38" width="28" height="1.54" fill="#b22234"/><rect y="18.46" width="28" height="1.54" fill="#b22234"/><rect width="14" height="10.8" fill="#3c3b6e"/><circle cx="2.0" cy="1.8" r="0.6" fill="#fff"/><circle cx="5.2" cy="1.8" r="0.6" fill="#fff"/><circle cx="8.4" cy="1.8" r="0.6" fill="#fff"/><circle cx="11.6" cy="1.8" r="0.6" fill="#fff"/><circle cx="2.0" cy="4.2" r="0.6" fill="#fff"/><circle cx="5.2" cy="4.2" r="0.6" fill="#fff"/><circle cx="8.4" cy="4.2" r="0.6" fill="#fff"/><circle cx="11.6" cy="4.2" r="0.6" fill="#fff"/><circle cx="2.0" cy="6.6" r="0.6" fill="#fff"/><circle cx="5.2" cy="6.6" r="0.6" fill="#fff"/><circle cx="8.4" cy="6.6" r="0.6" fill="#fff"/><circle cx="11.6" cy="6.6" r="0.6" fill="#fff"/><circle cx="2.0" cy="9.0" r="0.6" fill="#fff"/><circle cx="5.2" cy="9.0" r="0.6" fill="#fff"/><circle cx="8.4" cy="9.0" r="0.6" fill="#fff"/><circle cx="11.6" cy="9.0" r="0.6" fill="#fff"/></g></svg>
<div class="t" style="left:224px;top:1858px;text-align:left"><span style="letter-spacing:-1.2px">美国</span>01|<span style="letter-spacing:-1.2px">流媒体</span></div>
<div class="t" style="left:679px;top:1858px;width:244px">Hysteria2</div>
<div class="t" style="left:925px;top:1858px;width:218px">283ms</div>
<div class="t" style="left:1145px;top:1858px;width:265px">1081ms</div>
<div class="t" style="left:1412px;top:1858px;width:234px">11.38MB</div>
<div class="t" style="left:1648px;top:1858px;width:234px">18.07MB</div>
<div class="a" style="left:1928px;top:1908.1px;width:22px;height:5.9px;background:#aef5c4"></div>
<div class="a" style="left:1950px;top:1901.0px;width:22px;height:13.0px;background:#76f5a3"></div>
<div class="a" style="left:1972px;top:1896.0px;width:22px;height:18.0px;background:#49f490"></div>
<div class="a" style="left:1994px;top:1898.1px;width:22px;height:15.9px;background:#5af597"></div>
<div class="a" style="left:2016px;top:1896.0px;width:22px;height:18.0px;background:#49f490"></div>
<div class="a" style="left:2038px;top:1896.9px;width:22px;height:17.1px;background:#52f596"></div>
<div class="a" style="left:2060px;top:1898.1px;width:22px;height:15.9px;background:#5af597"></div>
<div class="a" style="left:2082px;top:1894.1px;width:30px;height:19.9px;background:#2ef27d"></div>
<div class="g" style="left:2px;top:1914px;width:160px"></div>
<div class="g" style="left:164px;top:1914px;width:513px"></div>
<div class="g" style="left:679px;top:1914px;width:244px"></div>
<div class="w" style="left:925px;top:1914px;width:218px"></div>
<div class="a" style="left:925px;top:1916px;width:218px;height:56px;background:#29db5f"></div>
<div class="w" style="left:1145px;top:1914px;width:265px"></div>
<div class="a" style="left:1145px;top:1916px;width:265px;height:56px;background:#b57823"></div>
<div class="w" style="left:1412px;top:1914px;width:234px"></div>
<div class="a" style="left:1412px;top:1916px;width:234px;height:56px;background:#67f59c"></div>
<div class="w" style="left:1648px;top:1914px;width:234px"></div>
<div class="a" style="left:1648px;top:1916px;width:234px;height:56px;background:#1ef887"></div>
<div class="g" style="left:1884px;top:1914px;width:228px"></div>
<div class="t" style="left:2px;top:1916px;width:160px">32</div>
<svg class="a" style="left:188px;top:1934px" width="28" height="20" viewBox="0 0 28 20"><clipPath id="c1934"><rect width="28" height="20" rx="2.5"/></clipPath><g clip-path="url(#c1934)"><rect width="28" height="20" fill="#fff"/><rect y="0.00" width="28" height="1.54" fill="#b22234"/><rect y="3.08" width="28" height="1.54" fill="#b22234"/><rect y="6.15" width="28" height="1.54" fill="#b22234"/><rect y="9.23" width="28" height="1.54" fill="#b22234"/><rect y="12.31" width="28" height="1.54" fill="#b22234"/><rect y="15.38" width="28" height="1.54" fill="#b22234"/><rect y="18.46" width="28" height="1.54" fill="#b22234"/><rect width="14" height="10.8" fill="#3c3b6e"/><circle cx="2.0" cy="1.8" r="0.6" fill="#fff"/><circle cx="5.2" cy="1.8" r="0.6" fill="#fff"/><circle cx="8.4" cy="1.8" r="0.6" fill="#fff"/><circle cx="11.6" cy="1.8" r="0.6" fill="#fff"/><circle cx="2.0" cy="4.2" r="0.6" fill="#fff"/><circle cx="5.2" cy="4.2" r="0.6" fill="#fff"/><circle cx="8.4" cy="4.2" r="0.6" fill="#fff"/><circle cx="11.6" cy="4.2" r="0.6" fill="#fff"/><circle cx="2.0" cy="6.6" r="0.6" fill="#fff"/><circle cx="5.2" cy="6.6" r="0.6" fill="#fff"/><circle cx="8.4" cy="6.6" r="0.6" fill="#fff"/><circle cx="11.6" cy="6.6" r="0.6" fill="#fff"/><circle cx="2.0" cy="9.0" r="0.6" fill="#fff"/><circle cx="5.2" cy="9.0" r="0.6" fill="#fff"/><circle cx="8.4" cy="9.0" r="0.6" fill="#fff"/><circle cx="11.6" cy="9.0" r="0.6" fill="#fff"/></g></svg>
<div class="t" style="left:224px;top:1916px;text-align:left"><span style="letter-spacing:-1.2px">美国</span>02|<span style="letter-spacing:-1.2px">流媒体</span> 0.1<span style="letter-spacing:-1.2px">倍</span></div>
<div class="t" style="left:679px;top:1916px;width:244px">Hysteria2</div>
<div class="t" style="left:925px;top:1916px;width:218px">262ms</div>
<div class="t" style="left:1145px;top:1916px;width:265px">1047ms</div>
<div class="t" style="left:1412px;top:1916px;width:234px">12.98MB</div>
<div class="t" style="left:1648px;top:1916px;width:234px">25.13MB</div>
<div class="a" style="left:1906px;top:1969.0px;width:22px;height:3.0px;background:#cbf7d7"></div>
<div class="a" style="left:1928px;top:1944.0px;width:22px;height:28.0px;background:#1ef886"></div>
<div class="a" style="left:1950px;top:1960.1px;width:22px;height:11.9px;background:#7ef5a8"></div>
<div class="a" style="left:1972px;top:1954.9px;width:22px;height:17.1px;background:#52f596"></div>
<div class="a" style="left:1994px;top:1952.1px;width:22px;height:19.9px;background:#2ef27d"></div>
<div class="a" style="left:2016px;top:1953.0px;width:22px;height:19.0px;background:#3af386"></div>
<div class="a" style="left:2038px;top:1956.0px;width:22px;height:16.0px;background:#5af597"></div>
<div class="a" style="left:2060px;top:1954.9px;width:22px;height:17.1px;background:#52f596"></div>
<div class="a" style="left:2082px;top:1963.2px;width:30px;height:8.8px;background:#95f5b8"></div>
<div class="g" style="left:2px;top:1972px;width:160px"></div>
<div class="g" style="left:164px;top:1972px;width:513px"></div>
<div class="g" style="left:679px;top:1972px;width:244px"></div>
<div class="g" style="left:925px;top:1972px;width:218px"></div>
<div class="g" style="left:1145px;top:1972px;width:265px"></div>
<div class="g" style="left:1412px;top:1972px;width:234px"></div>
<div class="g" style="left:1648px;top:1972px;width:234px"></div>
<div class="g" style="left:1884px;top:1972px;width:228px"></div>
<div class="g" style="left:2px;top:2030px;width:2110px;background:#dedede"></div>
<div class="g" style="left:2px;top:2088px;width:2110px;background:#dedede"></div>
<svg class="a" style="left:26px;top:1988px" width="28" height="28" viewBox="0 0 28 28"><rect width="28" height="28" rx="3" fill="#6ab04c"/><path d="M6.5 14.5 L11.5 19.5 L21.5 8.5" stroke="#fff" stroke-width="3.6" fill="none" stroke-linecap="round" stroke-linejoin="round"/></svg>
<div class="t" style="left:73px;top:1974px;text-align:left"><span style="letter-spacing:-1.2px">已核实</span> <b style="font-weight:normal;letter-spacing:-2.8px">TLS</b> <span style="letter-spacing:-1.2px">证书</span>。<b style="font-weight:normal;letter-spacing:-2.8px">TLS</b> <b style="font-weight:normal;letter-spacing:-2.8px">RTT</b> <span style="letter-spacing:-1.2px">为单次数据交换延迟</span>， <b style="font-weight:normal;letter-spacing:-2.8px">HTTPS</b> <b style="font-weight:normal;letter-spacing:-2.8px">P</b>ing <span style="letter-spacing:-1.2px">为单次请求体感延迟</span>。</div>
<div class="t" style="left:21px;top:2032px;text-align:left">主端=4.3.3 (696) 喵速=5.0.0-beta8 (&#x25af;东北-辽宁移动 [1Gbps][单线程]), 线程=1 概要=32/32 排序=订阅原序 过滤器=</div>
<div class="t" style="left:21px;top:2090px;text-align:left"><span style="letter-spacing:-1.2px">测试时间</span>：2026-03-31 18:10:56 (<b style="font-weight:normal;letter-spacing:-2.8px">CST</b>)，<span style="letter-spacing:-1.2px">本测试为试验性结果</span>，<span style="letter-spacing:-1.2px">仅供参考</span>。</div>
<svg class="a" style="left:2px;top:2px" width="2110" height="2144" viewBox="2 2 2110 2144">
<text x="0" y="0" transform="translate(699.32 119.97) rotate(-15.20) scale(0.9040 1)" font-family="Liberation Sans" font-size="88.5" fill="rgba(56,56,56,0.23)">FFQ.LA</text>
<text x="0" y="0" transform="translate(996.35 39.27) rotate(-15.20) scale(1.0328 1)" font-family="Liberation Sans" font-size="88.5" fill="rgba(56,56,56,0.23)">Test</text>
<text x="0" y="0" transform="translate(1184.62 -6.88) rotate(-15.20) scale(1.0203 1)" font-family="Liberation Sans" font-size="88.5" fill="rgba(56,56,56,0.23)">Center</text>
<text x="0" y="0" transform="translate(699.32 430.91) rotate(-15.20) scale(0.9040 1)" font-family="Liberation Sans" font-size="88.5" fill="rgba(56,56,56,0.23)">FFQ.LA</text>
<text x="0" y="0" transform="translate(996.35 350.21) rotate(-15.20) scale(1.0328 1)" font-family="Liberation Sans" font-size="88.5" fill="rgba(56,56,56,0.23)">Test</text>
<text x="0" y="0" transform="translate(1184.62 304.06) rotate(-15.20) scale(1.0203 1)" font-family="Liberation Sans" font-size="88.5" fill="rgba(56,56,56,0.23)">Center</text>
<text x="0" y="0" transform="translate(699.32 741.85) rotate(-15.20) scale(0.9040 1)" font-family="Liberation Sans" font-size="88.5" fill="rgba(56,56,56,0.23)">FFQ.LA</text>
<text x="0" y="0" transform="translate(996.35 661.15) rotate(-15.20) scale(1.0328 1)" font-family="Liberation Sans" font-size="88.5" fill="rgba(56,56,56,0.23)">Test</text>
<text x="0" y="0" transform="translate(1184.62 615.00) rotate(-15.20) scale(1.0203 1)" font-family="Liberation Sans" font-size="88.5" fill="rgba(56,56,56,0.23)">Center</text>
<text x="0" y="0" transform="translate(699.32 1052.79) rotate(-15.20) scale(0.9040 1)" font-family="Liberation Sans" font-size="88.5" fill="rgba(56,56,56,0.23)">FFQ.LA</text>
<text x="0" y="0" transform="translate(996.35 972.09) rotate(-15.20) scale(1.0328 1)" font-family="Liberation Sans" font-size="88.5" fill="rgba(56,56,56,0.23)">Test</text>
<text x="0" y="0" transform="translate(1184.62 925.94) rotate(-15.20) scale(1.0203 1)" font-family="Liberation Sans" font-size="88.5" fill="rgba(56,56,56,0.23)">Center</text>
<text x="0" y="0" transform="translate(699.32 1363.73) rotate(-15.20) scale(0.9040 1)" font-family="Liberation Sans" font-size="88.5" fill="rgba(56,56,56,0.23)">FFQ.LA</text>
<text x="0" y="0" transform="translate(996.35 1283.03) rotate(-15.20) scale(1.0328 1)" font-family="Liberation Sans" font-size="88.5" fill="rgba(56,56,56,0.23)">Test</text>
<text x="0" y="0" transform="translate(1184.62 1236.88) rotate(-15.20) scale(1.0203 1)" font-family="Liberation Sans" font-size="88.5" fill="rgba(56,56,56,0.23)">Center</text>
<text x="0" y="0" transform="translate(699.32 1674.67) rotate(-15.20) scale(0.9040 1)" font-family="Liberation Sans" font-size="88.5" fill="rgba(56,56,56,0.23)">FFQ.LA</text>
<text x="0" y="0" transform="translate(996.35 1593.97) rotate(-15.20) scale(1.0328 1)" font-family="Liberation Sans" font-size="88.5" fill="rgba(56,56,56,0.23)">Test</text>
<text x="0" y="0" transform="translate(1184.62 1547.82) rotate(-15.20) scale(1.0203 1)" font-family="Liberation Sans" font-size="88.5" fill="rgba(56,56,56,0.23)">Center</text>
<text x="0" y="0" transform="translate(699.32 1985.61) rotate(-15.20) scale(0.9040 1)" font-family="Liberation Sans" font-size="88.5" fill="rgba(56,56,56,0.23)">FFQ.LA</text>
<text x="0" y="0" transform="translate(996.35 1904.91) rotate(-15.20) scale(1.0328 1)" font-family="Liberation Sans" font-size="88.5" fill="rgba(56,56,56,0.23)">Test</text>
<text x="0" y="0" transform="translate(1184.62 1858.76) rotate(-15.20) scale(1.0203 1)" font-family="Liberation Sans" font-size="88.5" fill="rgba(56,56,56,0.23)">Center</text>
<text x="0" y="0" transform="translate(699.32 2296.55) rotate(-15.20) scale(0.9040 1)" font-family="Liberation Sans" font-size="88.5" fill="rgba(56,56,56,0.23)">FFQ.LA</text>
<text x="0" y="0" transform="translate(996.35 2215.85) rotate(-15.20) scale(1.0328 1)" font-family="Liberation Sans" font-size="88.5" fill="rgba(56,56,56,0.23)">Test</text>
<text x="0" y="0" transform="translate(1184.62 2169.70) rotate(-15.20) scale(1.0203 1)" font-family="Liberation Sans" font-size="88.5" fill="rgba(56,56,56,0.23)">Center</text>
</svg>
<div class="a" style="left:2px;top:2px;width:2108px;height:2142px;border:1px solid #fff"></div>
</body></html>
